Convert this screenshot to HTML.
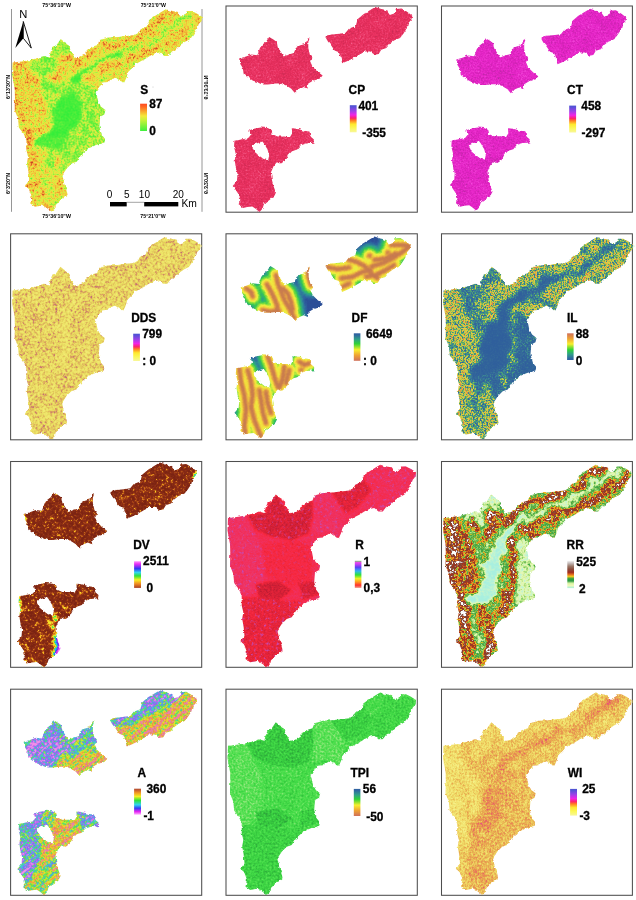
<!DOCTYPE html>
<html lang="en"><head><meta charset="utf-8"><title>Morphometric parameter maps</title>
<style>
html,body{margin:0;padding:0;background:#fff;}
body{width:636px;height:900px;overflow:hidden;font-family:'Liberation Sans', sans-serif;}
svg{display:block;}
text{font-family:'Liberation Sans', sans-serif;fill:#000;}
</style></head>
<body>
<svg width="636" height="900" viewBox="0 0 636 900">
<defs>
<linearGradient id="gS" x1="0" y1="0" x2="0" y2="1"><stop offset="0" stop-color="#ff4a22"/><stop offset="0.12" stop-color="#ff6a22"/><stop offset="0.45" stop-color="#f4e93a"/><stop offset="0.6" stop-color="#c8f23a"/><stop offset="1" stop-color="#3ef03e"/></linearGradient>
<linearGradient id="gCP" x1="0" y1="0" x2="0" y2="1"><stop offset="0" stop-color="#4a55d0"/><stop offset="0.06" stop-color="#5a50d8"/><stop offset="0.22" stop-color="#a040e8"/><stop offset="0.36" stop-color="#f222e6"/><stop offset="0.48" stop-color="#ff2468"/><stop offset="0.56" stop-color="#ff7a22"/><stop offset="0.7" stop-color="#ffe92e"/><stop offset="0.85" stop-color="#fbf85a"/><stop offset="1" stop-color="#f8f79a"/></linearGradient>
<linearGradient id="gDF" x1="0" y1="0" x2="0" y2="1"><stop offset="0" stop-color="#2f5fa2"/><stop offset="0.06" stop-color="#2f68a0"/><stop offset="0.22" stop-color="#30a088"/><stop offset="0.38" stop-color="#2fd238"/><stop offset="0.5" stop-color="#9be22e"/><stop offset="0.6" stop-color="#f8ef2e"/><stop offset="0.8" stop-color="#efa233"/><stop offset="1" stop-color="#d0705a"/></linearGradient>
<linearGradient id="gIL" x1="0" y1="0" x2="0" y2="1"><stop offset="0" stop-color="#d0705a"/><stop offset="0.2" stop-color="#efa233"/><stop offset="0.4" stop-color="#f8ef2e"/><stop offset="0.5" stop-color="#9be22e"/><stop offset="0.62" stop-color="#2fd238"/><stop offset="0.78" stop-color="#30a088"/><stop offset="0.94" stop-color="#2f68a0"/><stop offset="1" stop-color="#2f5fa2"/></linearGradient>
<linearGradient id="gDV" x1="0" y1="0" x2="0" y2="1"><stop offset="0" stop-color="#ff9aff"/><stop offset="0.1" stop-color="#f030f4"/><stop offset="0.2" stop-color="#8a30f4"/><stop offset="0.28" stop-color="#3038f2"/><stop offset="0.42" stop-color="#30d4f2"/><stop offset="0.55" stop-color="#30e23a"/><stop offset="0.7" stop-color="#f6f022"/><stop offset="0.85" stop-color="#f08a22"/><stop offset="1" stop-color="#a83e22"/></linearGradient>
<linearGradient id="gR" x1="0" y1="0" x2="0" y2="1"><stop offset="0" stop-color="#70d070"/><stop offset="0.07" stop-color="#f040f0"/><stop offset="0.15" stop-color="#b040f4"/><stop offset="0.24" stop-color="#5a40f4"/><stop offset="0.38" stop-color="#30b4f2"/><stop offset="0.52" stop-color="#30e236"/><stop offset="0.66" stop-color="#f2f022"/><stop offset="0.78" stop-color="#ff9a22"/><stop offset="0.9" stop-color="#ff3030"/><stop offset="1" stop-color="#f09a86"/></linearGradient>
<linearGradient id="gRR" x1="0" y1="0" x2="0" y2="1"><stop offset="0" stop-color="#f4f4f4"/><stop offset="0.08" stop-color="#c8c0c0"/><stop offset="0.2" stop-color="#9a7868"/><stop offset="0.3" stop-color="#8a5040"/><stop offset="0.42" stop-color="#a02a1e"/><stop offset="0.5" stop-color="#e06a1e"/><stop offset="0.57" stop-color="#f6c41e"/><stop offset="0.66" stop-color="#2fa040"/><stop offset="0.74" stop-color="#2f9a44"/><stop offset="0.82" stop-color="#d4f2a0"/><stop offset="0.9" stop-color="#f0fab8"/><stop offset="1" stop-color="#aaf0dc"/></linearGradient>
<linearGradient id="gA" x1="0" y1="0" x2="0" y2="1"><stop offset="0" stop-color="#b04a30"/><stop offset="0.06" stop-color="#c86030"/><stop offset="0.16" stop-color="#f49a22"/><stop offset="0.3" stop-color="#f2f022"/><stop offset="0.45" stop-color="#30e236"/><stop offset="0.62" stop-color="#30d4f2"/><stop offset="0.75" stop-color="#3040f2"/><stop offset="0.88" stop-color="#e422f2"/><stop offset="1" stop-color="#ffb4ff"/></linearGradient>
<path id="basin" d="M2,56.6 L10.7,55.5 L19.8,54.1 L26.5,52.1 L33.2,50 L38.2,51.6 L39.8,45.8 L41.5,41.6 L45.7,39.1 L49.8,33 L53.2,35.8 L57.3,38.3 L58.4,41.8 L60.6,46.3 L63.9,51.8 L70.5,50.2 L74.9,47.4 L76.3,43.6 L80.7,40.8 L86.5,39.1 L88.2,34.1 L94,32.5 L96.7,31.6 L105.8,31.1 L115,30 L123.3,29.1 L127.5,26.6 L129.2,23.3 L135,20.8 L137.5,14.1 L143.3,10 L150,5.8 L154.2,3.3 L160,5 L165.8,5.8 L169.2,10.8 L173.3,9.1 L175,5 L180,5 L185,7.5 L190,10.8 L189.7,15 L186.7,18.3 L185,23.3 L181.7,28.3 L178.3,33.3 L173.3,35.8 L168.3,39.1 L165,43.3 L160,45.8 L156.7,50 L152.5,50 L148.3,46.6 L143.3,47.5 L138.3,50 L133.3,53.3 L128.3,55.8 L124,58.4 L121.1,61.7 L116.7,66.1 L115.1,71.6 L112.9,76.6 L109,74.9 L104.1,71.6 L101.3,73.3 L96.9,76 L91.4,76.6 L88.7,80.4 L87.6,84.3 L84.3,85.4 L85.9,90.3 L87,95.8 L89.8,100.8 L94.2,104.1 L93.1,108.5 L89,110.8 L88.2,120.8 L90.7,129.1 L94,133.3 L93.2,136.6 L84.8,139.1 L77.3,142.5 L75.7,144.1 L70.7,148.3 L65.7,155.8 L60.7,157.5 L55.7,162.5 L51.5,169.1 L53.2,177.5 L55.7,184.1 L56.5,189.1 L52.3,192.5 L50.6,193.3 L44.9,198.9 L44.5,202.2 L40.7,205.5 L35.5,201.7 L31.7,199.4 L24.2,200.8 L19.5,197.5 L20.9,190.4 L18.1,182.9 L14.3,179.6 L18.5,174.4 L17.6,165 L16.2,157.4 L17.3,150.8 L15.7,144.1 L15.7,135 L13.2,128.3 L8.2,121.6 L7.3,112.5 L4,104.1 L4.3,90.8 L4,82.5 L1.5,69.1Z"/>
<path id="subs" fill-rule="evenodd" d="M14.7,53.5 L20.2,52 L26.8,49.5 L32.7,50.3 L35.2,43.2 L37.7,39.8 L41,37.3 L44.3,32.3 L48.5,34.8 L51.8,37.3 L52.7,42.3 L56,47.3 L58.5,51.5 L64.3,49.3 L68.5,48.2 L70.5,43.2 L74.3,40.7 L80.2,39 L81.8,34 L84.3,32.7 L82.7,37.3 L82.7,43.2 L84.3,49.8 L87.7,54 L84.3,55.7 L86.8,61.5 L91.8,66.5 L96.8,70.3 L94.3,73.2 L86.8,75.7 L82.7,78.2 L81.8,83.2 L77.7,81.5 L73.5,83.2 L69.3,87.3 L66,83.2 L61.8,80.7 L56.8,78.2 L50.2,78.2 L43.5,79 L38.5,79 L33.5,77 L28.5,75.3 L23.5,72.3 L19.3,69 L18.5,63.2 L16,59Z M99.3,32 L105.2,29.8 L113.5,29 L119.3,28.2 L122.7,24 L129.3,21.5 L131,14.8 L136.8,9.8 L143.5,5.7 L148.5,2.7 L154.3,4.8 L159.3,5.7 L162.7,10.7 L167.7,9 L168.5,4.8 L174.3,4.3 L179.3,7.3 L184.8,11.5 L183.8,15.3 L180.5,19 L179.3,24 L176,29 L172.7,33.2 L166.8,35.7 L162.7,39 L159.3,43.2 L154.3,44.8 L151.8,49 L147.7,49.8 L143.5,46.5 L138.5,46.5 L132.7,49.8 L126.8,53.2 L121.8,55.7 L116,58.2 L114.3,52.3 L112.7,47.3 L108.5,45.7 L105.2,40.7 L101.8,36.5Z M10.2,134.8 L16.8,133.2 L23.5,132 L26,129 L24.8,124.3 L29.3,122.7 L36,121.5 L42.7,122 L46.8,124 L47.7,128.2 L52.7,130.3 L59.3,130.3 L64.3,131.5 L66.8,127.3 L66.5,122.3 L71.8,122.8 L78.5,124.8 L83.8,125.3 L85.2,130.7 L88.2,133.2 L87.7,136.5 L81,137.3 L75.2,139 L71.8,143.2 L66.8,144.8 L62.7,149 L60.2,154 L56,157 L51.8,155.7 L48.5,159.8 L46,165.7 L46.8,172.3 L48.5,179 L51,185.7 L49.3,189 L44.3,193.2 L39.3,196.5 L37.7,201.5 L34.8,204.8 L31,201.5 L27.7,199.3 L22.7,199.8 L18.5,200.7 L14.3,197 L16,192.3 L14.3,187.3 L11,182.3 L8.5,179 L12.7,174 L13.2,167.3 L11.5,160.7 L10.5,154 L11.5,147.3 L9.8,140.7Z M27.7,139.3 L32.7,137 L37.7,135.3 L39.8,138.2 L42.7,143.2 L44.3,149 L43.2,154 L38.5,152.3 L34.3,149 L30.2,145.7 L28.5,142.3Z"/>
<filter id="rough" filterUnits="userSpaceOnUse" x="-5" y="-5" width="205" height="220"><feTurbulence type="fractalNoise" baseFrequency="0.3" numOctaves="2" seed="8" result="rn"/><feDisplacementMap in="SourceGraphic" in2="rn" scale="3" xChannelSelector="R" yChannelSelector="G"/></filter>
<mask id="mb" maskUnits="userSpaceOnUse" x="-5" y="-5" width="205" height="220"><use href="#basin" fill="#fff" filter="url(#rough)"/></mask>
<mask id="ms" maskUnits="userSpaceOnUse" x="-5" y="-5" width="205" height="220"><use href="#subs" fill="#fff" filter="url(#rough)"/></mask>
<clipPath id="cb"><use href="#basin"/></clipPath>
<clipPath id="cs"><path clip-rule="evenodd" d="M14.7,53.5 L20.2,52 L26.8,49.5 L32.7,50.3 L35.2,43.2 L37.7,39.8 L41,37.3 L44.3,32.3 L48.5,34.8 L51.8,37.3 L52.7,42.3 L56,47.3 L58.5,51.5 L64.3,49.3 L68.5,48.2 L70.5,43.2 L74.3,40.7 L80.2,39 L81.8,34 L84.3,32.7 L82.7,37.3 L82.7,43.2 L84.3,49.8 L87.7,54 L84.3,55.7 L86.8,61.5 L91.8,66.5 L96.8,70.3 L94.3,73.2 L86.8,75.7 L82.7,78.2 L81.8,83.2 L77.7,81.5 L73.5,83.2 L69.3,87.3 L66,83.2 L61.8,80.7 L56.8,78.2 L50.2,78.2 L43.5,79 L38.5,79 L33.5,77 L28.5,75.3 L23.5,72.3 L19.3,69 L18.5,63.2 L16,59Z M99.3,32 L105.2,29.8 L113.5,29 L119.3,28.2 L122.7,24 L129.3,21.5 L131,14.8 L136.8,9.8 L143.5,5.7 L148.5,2.7 L154.3,4.8 L159.3,5.7 L162.7,10.7 L167.7,9 L168.5,4.8 L174.3,4.3 L179.3,7.3 L184.8,11.5 L183.8,15.3 L180.5,19 L179.3,24 L176,29 L172.7,33.2 L166.8,35.7 L162.7,39 L159.3,43.2 L154.3,44.8 L151.8,49 L147.7,49.8 L143.5,46.5 L138.5,46.5 L132.7,49.8 L126.8,53.2 L121.8,55.7 L116,58.2 L114.3,52.3 L112.7,47.3 L108.5,45.7 L105.2,40.7 L101.8,36.5Z M10.2,134.8 L16.8,133.2 L23.5,132 L26,129 L24.8,124.3 L29.3,122.7 L36,121.5 L42.7,122 L46.8,124 L47.7,128.2 L52.7,130.3 L59.3,130.3 L64.3,131.5 L66.8,127.3 L66.5,122.3 L71.8,122.8 L78.5,124.8 L83.8,125.3 L85.2,130.7 L88.2,133.2 L87.7,136.5 L81,137.3 L75.2,139 L71.8,143.2 L66.8,144.8 L62.7,149 L60.2,154 L56,157 L51.8,155.7 L48.5,159.8 L46,165.7 L46.8,172.3 L48.5,179 L51,185.7 L49.3,189 L44.3,193.2 L39.3,196.5 L37.7,201.5 L34.8,204.8 L31,201.5 L27.7,199.3 L22.7,199.8 L18.5,200.7 L14.3,197 L16,192.3 L14.3,187.3 L11,182.3 L8.5,179 L12.7,174 L13.2,167.3 L11.5,160.7 L10.5,154 L11.5,147.3 L9.8,140.7Z M27.7,139.3 L32.7,137 L37.7,135.3 L39.8,138.2 L42.7,143.2 L44.3,149 L43.2,154 L38.5,152.3 L34.3,149 L30.2,145.7 L28.5,142.3Z"/></clipPath>
<filter id="fS" filterUnits="userSpaceOnUse" x="-4" y="-4" width="200" height="215" color-interpolation-filters="sRGB"><feTurbulence type="fractalNoise" baseFrequency="0.07" numOctaves="2" seed="3" result="dn"/><feDisplacementMap in="SourceGraphic" in2="dn" scale="12" xChannelSelector="R" yChannelSelector="G" result="ds"/><feGaussianBlur in="ds" stdDeviation="1.7" result="v0"/><feTurbulence type="fractalNoise" baseFrequency="0.5" numOctaves="2" seed="3" result="t0"/><feColorMatrix in="t0" type="matrix" values="1 0 0 0 0 1 0 0 0 0 1 0 0 0 0 0 0 0 0 1" result="n0"/><feComposite in="v0" in2="n0" operator="arithmetic" k1="1.3" k2="0.35" k3="0.2" k4="-0.1" result="v1"/><feTurbulence type="fractalNoise" baseFrequency="0.13" numOctaves="2" seed="11" result="t1"/><feColorMatrix in="t1" type="matrix" values="0 1 0 0 0 0 1 0 0 0 0 1 0 0 0 0 0 0 0 1" result="n1"/><feComposite in="v1" in2="n1" operator="arithmetic" k1="0.9" k2="0.55" k3="0.1" k4="-0.05" result="v2"/><feComponentTransfer in="v2" result="c"><feFuncR type="table" tableValues="0.208 0.238 0.269 0.300 0.330 0.361 0.401 0.473 0.544 0.616 0.684 0.748 0.812 0.867 0.886 0.906 0.925 0.933 0.940 0.948 0.948 0.946 0.944 0.942 0.937 0.923 0.909 0.895 0.881 0.858 0.833 0.809 0.784"/><feFuncG type="table" tableValues="0.933 0.935 0.936 0.937 0.939 0.940 0.941 0.941 0.941 0.941 0.940 0.938 0.935 0.930 0.913 0.896 0.878 0.849 0.820 0.790 0.756 0.721 0.686 0.651 0.611 0.558 0.506 0.453 0.401 0.370 0.343 0.317 0.290"/><feFuncB type="table" tableValues="0.227 0.229 0.230 0.232 0.233 0.234 0.236 0.240 0.244 0.249 0.251 0.251 0.251 0.251 0.251 0.251 0.251 0.244 0.236 0.229 0.223 0.218 0.213 0.207 0.201 0.192 0.184 0.175 0.166 0.158 0.150 0.142 0.133"/><feFuncA type="linear" slope="0" intercept="1"/></feComponentTransfer><feGaussianBlur in="c" stdDeviation="0.5"/></filter>
<filter id="fCP" filterUnits="userSpaceOnUse" x="-4" y="-4" width="200" height="215" color-interpolation-filters="sRGB"><feOffset in="SourceGraphic" dx="0" dy="0" result="v0"/><feTurbulence type="fractalNoise" baseFrequency="0.6" numOctaves="2" seed="5" result="t0"/><feColorMatrix in="t0" type="matrix" values="1 0 0 0 0 1 0 0 0 0 1 0 0 0 0 0 0 0 0 1" result="n0"/><feComposite in="v0" in2="n0" operator="arithmetic" k1="0" k2="1" k3="0.9" k4="-0.45" result="v1"/><feTurbulence type="fractalNoise" baseFrequency="0.08" numOctaves="2" seed="2" result="t1"/><feColorMatrix in="t1" type="matrix" values="0 1 0 0 0 0 1 0 0 0 0 1 0 0 0 0 0 0 0 1" result="n1"/><feComposite in="v1" in2="n1" operator="arithmetic" k1="0" k2="1" k3="0.35" k4="-0.175" result="v2"/><feComponentTransfer in="v2" result="c"><feFuncR type="table" tableValues="0.722 0.736 0.751 0.766 0.780 0.795 0.810 0.825 0.839 0.854 0.866 0.873 0.880 0.888 0.895 0.902 0.910 0.913 0.917 0.921 0.925 0.928 0.932 0.935 0.937 0.940 0.942 0.945 0.947 0.950 0.952 0.954 0.957"/><feFuncG type="table" tableValues="0.173 0.173 0.173 0.173 0.173 0.173 0.173 0.173 0.173 0.173 0.174 0.176 0.178 0.181 0.183 0.186 0.188 0.198 0.208 0.218 0.227 0.237 0.247 0.267 0.293 0.319 0.345 0.371 0.397 0.424 0.450 0.476 0.502"/><feFuncB type="table" tableValues="0.329 0.331 0.333 0.334 0.336 0.338 0.339 0.341 0.342 0.344 0.347 0.350 0.354 0.358 0.361 0.365 0.369 0.380 0.391 0.402 0.413 0.424 0.435 0.451 0.471 0.490 0.510 0.529 0.549 0.569 0.588 0.608 0.627"/><feFuncA type="linear" slope="0" intercept="1"/></feComponentTransfer><feGaussianBlur in="c" stdDeviation="0.4"/></filter>
<filter id="fCT" filterUnits="userSpaceOnUse" x="-4" y="-4" width="200" height="215" color-interpolation-filters="sRGB"><feOffset in="SourceGraphic" dx="0" dy="0" result="v0"/><feTurbulence type="fractalNoise" baseFrequency="0.6" numOctaves="2" seed="7" result="t0"/><feColorMatrix in="t0" type="matrix" values="1 0 0 0 0 1 0 0 0 0 1 0 0 0 0 0 0 0 0 1" result="n0"/><feComposite in="v0" in2="n0" operator="arithmetic" k1="0" k2="1" k3="0.9" k4="-0.45" result="v1"/><feTurbulence type="fractalNoise" baseFrequency="0.08" numOctaves="2" seed="4" result="t1"/><feColorMatrix in="t1" type="matrix" values="0 1 0 0 0 0 1 0 0 0 0 1 0 0 0 0 0 0 0 1" result="n1"/><feComposite in="v1" in2="n1" operator="arithmetic" k1="0" k2="1" k3="0.35" k4="-0.175" result="v2"/><feComponentTransfer in="v2" result="c"><feFuncR type="table" tableValues="0.627 0.648 0.668 0.689 0.709 0.730 0.750 0.770 0.791 0.811 0.828 0.839 0.850 0.861 0.872 0.883 0.894 0.899 0.904 0.909 0.914 0.919 0.924 0.927 0.931 0.934 0.937 0.941 0.944 0.947 0.950 0.954 0.957"/><feFuncG type="table" tableValues="0.204 0.197 0.191 0.184 0.178 0.171 0.165 0.158 0.152 0.145 0.141 0.141 0.141 0.141 0.141 0.141 0.141 0.150 0.158 0.167 0.175 0.184 0.193 0.209 0.231 0.253 0.275 0.298 0.320 0.342 0.364 0.386 0.408"/><feFuncB type="table" tableValues="0.596 0.608 0.621 0.633 0.645 0.657 0.670 0.682 0.694 0.706 0.718 0.727 0.737 0.747 0.757 0.767 0.776 0.783 0.789 0.795 0.801 0.807 0.813 0.820 0.826 0.833 0.839 0.846 0.852 0.859 0.865 0.872 0.878"/><feFuncA type="linear" slope="0" intercept="1"/></feComponentTransfer><feGaussianBlur in="c" stdDeviation="0.4"/></filter>
<filter id="fDDS" filterUnits="userSpaceOnUse" x="-4" y="-4" width="200" height="215" color-interpolation-filters="sRGB"><feGaussianBlur in="SourceGraphic" stdDeviation="3" result="v0"/><feTurbulence type="fractalNoise" baseFrequency="0.4" numOctaves="2" seed="9" result="t0"/><feColorMatrix in="t0" type="matrix" values="1 0 0 0 0 1 0 0 0 0 1 0 0 0 0 0 0 0 0 1" result="n0"/><feComposite in="v0" in2="n0" operator="arithmetic" k1="0" k2="1" k3="1.15" k4="-0.575" result="v1"/><feTurbulence type="fractalNoise" baseFrequency="0.1" numOctaves="2" seed="6" result="t1"/><feColorMatrix in="t1" type="matrix" values="0 1 0 0 0 0 1 0 0 0 0 1 0 0 0 0 0 0 0 1" result="n1"/><feComposite in="v1" in2="n1" operator="arithmetic" k1="0" k2="1" k3="0.45" k4="-0.225" result="v2"/><feComponentTransfer in="v2" result="c"><feFuncR type="table" tableValues="0.949 0.947 0.946 0.944 0.942 0.941 0.939 0.938 0.936 0.934 0.931 0.926 0.922 0.917 0.912 0.906 0.901 0.895 0.889 0.883 0.875 0.866 0.858 0.846 0.832 0.818 0.803 0.770 0.731 0.692 0.623 0.531 0.439"/><feFuncG type="table" tableValues="0.925 0.922 0.919 0.916 0.912 0.909 0.906 0.903 0.899 0.896 0.890 0.880 0.871 0.861 0.851 0.833 0.811 0.788 0.766 0.739 0.706 0.673 0.641 0.605 0.569 0.532 0.495 0.456 0.417 0.378 0.350 0.332 0.314"/><feFuncB type="table" tableValues="0.455 0.450 0.445 0.440 0.435 0.430 0.425 0.421 0.416 0.411 0.405 0.399 0.392 0.386 0.379 0.374 0.370 0.367 0.363 0.363 0.367 0.371 0.375 0.386 0.403 0.419 0.435 0.469 0.508 0.547 0.578 0.603 0.627"/><feFuncA type="linear" slope="0" intercept="1"/></feComponentTransfer><feGaussianBlur in="c" stdDeviation="0.5"/></filter>
<filter id="fDF" filterUnits="userSpaceOnUse" x="-4" y="-4" width="200" height="215" color-interpolation-filters="sRGB"><feGaussianBlur in="SourceGraphic" stdDeviation="0.9" result="v0"/><feTurbulence type="fractalNoise" baseFrequency="0.5" numOctaves="2" seed="4" result="t0"/><feColorMatrix in="t0" type="matrix" values="1 0 0 0 0 1 0 0 0 0 1 0 0 0 0 0 0 0 0 1" result="n0"/><feComposite in="v0" in2="n0" operator="arithmetic" k1="0" k2="1" k3="0.1" k4="-0.05" result="v1"/><feComponentTransfer in="v1" result="c"><feFuncR type="table" tableValues="0.769 0.777 0.785 0.793 0.804 0.826 0.849 0.871 0.894 0.907 0.921 0.934 0.947 0.946 0.943 0.902 0.762 0.623 0.487 0.396 0.305 0.215 0.199 0.194 0.189 0.184 0.184 0.184 0.184 0.184 0.180 0.176 0.173"/><feFuncG type="table" tableValues="0.463 0.473 0.483 0.493 0.507 0.539 0.571 0.603 0.635 0.690 0.745 0.799 0.854 0.888 0.919 0.935 0.913 0.891 0.868 0.836 0.804 0.772 0.731 0.688 0.645 0.602 0.553 0.504 0.455 0.409 0.375 0.340 0.306"/><feFuncB type="table" tableValues="0.322 0.315 0.309 0.303 0.297 0.289 0.282 0.274 0.267 0.259 0.252 0.244 0.237 0.240 0.247 0.250 0.245 0.240 0.238 0.272 0.307 0.341 0.395 0.453 0.510 0.565 0.582 0.598 0.614 0.625 0.616 0.606 0.596"/><feFuncA type="linear" slope="0" intercept="1"/></feComponentTransfer><feGaussianBlur in="c" stdDeviation="0.4"/></filter>
<filter id="fIL" filterUnits="userSpaceOnUse" x="-4" y="-4" width="200" height="215" color-interpolation-filters="sRGB"><feTurbulence type="fractalNoise" baseFrequency="0.06" numOctaves="2" seed="5" result="dn"/><feDisplacementMap in="SourceGraphic" in2="dn" scale="16" xChannelSelector="R" yChannelSelector="G" result="ds"/><feGaussianBlur in="ds" stdDeviation="2.0" result="v0"/><feTurbulence type="fractalNoise" baseFrequency="0.6" numOctaves="2" seed="13" result="t0"/><feColorMatrix in="t0" type="matrix" values="1 0 0 0 0 1 0 0 0 0 1 0 0 0 0 0 0 0 0 1" result="n0"/><feComposite in="v0" in2="n0" operator="arithmetic" k1="2.4" k2="-0.2" k3="0.35" k4="-0.175" result="v1"/><feTurbulence type="fractalNoise" baseFrequency="0.1" numOctaves="2" seed="8" result="t1"/><feColorMatrix in="t1" type="matrix" values="0 1 0 0 0 0 1 0 0 0 0 1 0 0 0 0 0 0 0 1" result="n1"/><feComposite in="v1" in2="n1" operator="arithmetic" k1="0.9" k2="0.55" k3="0.15" k4="-0.075" result="v2"/><feComponentTransfer in="v2" result="c"><feFuncR type="table" tableValues="0.188 0.191 0.194 0.197 0.200 0.204 0.207 0.212 0.218 0.224 0.230 0.237 0.256 0.274 0.293 0.331 0.422 0.513 0.601 0.660 0.719 0.779 0.827 0.843 0.858 0.873 0.888 0.902 0.899 0.897 0.895 0.876 0.847"/><feFuncG type="table" tableValues="0.376 0.383 0.389 0.395 0.401 0.407 0.413 0.432 0.461 0.489 0.517 0.545 0.573 0.602 0.630 0.659 0.689 0.718 0.746 0.761 0.775 0.789 0.799 0.796 0.793 0.790 0.787 0.780 0.739 0.699 0.659 0.596 0.518"/><feFuncB type="table" tableValues="0.612 0.611 0.609 0.608 0.607 0.606 0.604 0.600 0.593 0.586 0.579 0.568 0.534 0.499 0.464 0.428 0.389 0.350 0.313 0.300 0.288 0.276 0.266 0.263 0.260 0.257 0.254 0.252 0.256 0.260 0.265 0.278 0.298"/><feFuncA type="linear" slope="0" intercept="1"/></feComponentTransfer><feGaussianBlur in="c" stdDeviation="0.45"/></filter>
<filter id="fDV" filterUnits="userSpaceOnUse" x="-4" y="-4" width="200" height="215" color-interpolation-filters="sRGB"><feGaussianBlur in="SourceGraphic" stdDeviation="0.8" result="v0"/><feTurbulence type="fractalNoise" baseFrequency="0.42" numOctaves="2" seed="21" result="t0"/><feColorMatrix in="t0" type="matrix" values="1 0 0 0 0 1 0 0 0 0 1 0 0 0 0 0 0 0 0 1" result="n0"/><feComposite in="v0" in2="n0" operator="arithmetic" k1="-1.45" k2="1.725" k3="1.45" k4="-0.725" result="v1"/><feTurbulence type="fractalNoise" baseFrequency="0.14" numOctaves="2" seed="5" result="t1"/><feColorMatrix in="t1" type="matrix" values="0 1 0 0 0 0 1 0 0 0 0 1 0 0 0 0 0 0 0 1" result="n1"/><feComposite in="v1" in2="n1" operator="arithmetic" k1="-0.7" k2="1.35" k3="0.7" k4="-0.35" result="v2"/><feComponentTransfer in="v2" result="c"><feFuncR type="table" tableValues="0.486 0.493 0.500 0.507 0.514 0.521 0.528 0.535 0.542 0.550 0.579 0.607 0.636 0.671 0.729 0.788 0.847 0.890 0.933 0.957 0.957 0.957 0.725 0.462 0.269 0.227 0.190 0.211 0.232 0.517 0.852 0.937 1.000"/><feFuncG type="table" tableValues="0.141 0.146 0.150 0.154 0.159 0.163 0.167 0.172 0.176 0.181 0.204 0.226 0.249 0.281 0.355 0.428 0.502 0.588 0.674 0.759 0.845 0.931 0.922 0.901 0.878 0.854 0.811 0.559 0.307 0.232 0.192 0.519 0.878"/><feFuncB type="table" tableValues="0.071 0.072 0.074 0.076 0.078 0.079 0.081 0.083 0.085 0.086 0.086 0.086 0.086 0.088 0.095 0.102 0.110 0.113 0.116 0.127 0.149 0.170 0.194 0.219 0.329 0.624 0.896 0.917 0.938 0.941 0.941 0.969 1.000"/><feFuncA type="linear" slope="0" intercept="1"/></feComponentTransfer><feGaussianBlur in="c" stdDeviation="0.4"/></filter>
<filter id="fR" filterUnits="userSpaceOnUse" x="-4" y="-4" width="200" height="215" color-interpolation-filters="sRGB"><feGaussianBlur in="SourceGraphic" stdDeviation="0.8" result="v0"/><feTurbulence type="fractalNoise" baseFrequency="0.5" numOctaves="2" seed="31" result="t0"/><feColorMatrix in="t0" type="matrix" values="1 0 0 0 0 1 0 0 0 0 1 0 0 0 0 0 0 0 0 1" result="n0"/><feComposite in="v0" in2="n0" operator="arithmetic" k1="0" k2="1" k3="0.5" k4="-0.25" result="v1"/><feTurbulence type="fractalNoise" baseFrequency="0.1" numOctaves="2" seed="33" result="t1"/><feColorMatrix in="t1" type="matrix" values="0 1 0 0 0 0 1 0 0 0 0 1 0 0 0 0 0 0 0 1" result="n1"/><feComposite in="v1" in2="n1" operator="arithmetic" k1="0" k2="1" k3="0.2" k4="-0.1" result="v2"/><feComponentTransfer in="v2" result="c"><feFuncR type="table" tableValues="0.910 0.915 0.920 0.925 0.929 0.934 0.935 0.937 0.939 0.940 0.942 0.946 0.949 0.952 0.956 0.959 0.962 0.965 0.969 0.972 0.962 0.949 0.936 0.923 0.910 0.893 0.877 0.861 0.844 0.826 0.802 0.777 0.753"/><feFuncG type="table" tableValues="0.251 0.244 0.238 0.231 0.225 0.218 0.212 0.205 0.199 0.192 0.187 0.184 0.180 0.177 0.174 0.171 0.167 0.164 0.161 0.158 0.154 0.151 0.148 0.144 0.141 0.138 0.135 0.131 0.128 0.125 0.120 0.115 0.110"/><feFuncB type="table" tableValues="0.439 0.433 0.426 0.420 0.413 0.407 0.400 0.393 0.387 0.380 0.371 0.356 0.341 0.326 0.312 0.299 0.288 0.276 0.265 0.253 0.247 0.242 0.237 0.232 0.227 0.224 0.221 0.218 0.214 0.211 0.209 0.206 0.204"/><feFuncA type="linear" slope="0" intercept="1"/></feComponentTransfer><feGaussianBlur in="c" stdDeviation="0.4"/></filter>
<filter id="sR" filterUnits="userSpaceOnUse" x="-4" y="-4" width="200" height="215" color-interpolation-filters="sRGB"><feTurbulence type="fractalNoise" baseFrequency="0.32" numOctaves="3" seed="77"/><feColorMatrix type="matrix" values="0 0 0 0 0.769  0 0 0 0 0.298  0 0 0 0 0.722  3.2 0 0 0 -1.824"/><feComposite in2="SourceGraphic" operator="in"/><feGaussianBlur stdDeviation="0.5"/></filter>
<filter id="fRR" filterUnits="userSpaceOnUse" x="-4" y="-4" width="200" height="215" color-interpolation-filters="sRGB"><feTurbulence type="fractalNoise" baseFrequency="0.07" numOctaves="2" seed="7" result="dn"/><feDisplacementMap in="SourceGraphic" in2="dn" scale="16" xChannelSelector="R" yChannelSelector="G" result="ds"/><feGaussianBlur in="ds" stdDeviation="1.2" result="v0"/><feTurbulence type="fractalNoise" baseFrequency="0.4" numOctaves="2" seed="17" result="t0"/><feColorMatrix in="t0" type="matrix" values="1 0 0 0 0 1 0 0 0 0 1 0 0 0 0 0 0 0 0 1" result="n0"/><feComposite in="v0" in2="n0" operator="arithmetic" k1="1.05" k2="0.475" k3="0.2" k4="-0.1" result="v1"/><feTurbulence type="fractalNoise" baseFrequency="0.12" numOctaves="2" seed="19" result="t1"/><feColorMatrix in="t1" type="matrix" values="0 1 0 0 0 0 1 0 0 0 0 1 0 0 0 0 0 0 0 1" result="n1"/><feComposite in="v1" in2="n1" operator="arithmetic" k1="0.7" k2="0.65" k3="0.15" k4="-0.075" result="v2"/><feComponentTransfer in="v2" result="c"><feFuncR type="table" tableValues="0.659 0.693 0.727 0.762 0.804 0.848 0.892 0.851 0.753 0.655 0.549 0.431 0.314 0.248 0.392 0.535 0.741 0.940 0.912 0.884 0.810 0.724 0.650 0.613 0.576 0.540 0.521 0.531 0.540 0.661 0.804 0.904 1.000"/><feFuncG type="table" tableValues="0.941 0.946 0.951 0.956 0.961 0.966 0.971 0.949 0.910 0.871 0.820 0.751 0.682 0.636 0.678 0.720 0.745 0.763 0.634 0.504 0.390 0.280 0.200 0.214 0.228 0.242 0.267 0.307 0.347 0.535 0.751 0.879 1.000"/><feFuncB type="table" tableValues="0.878 0.859 0.839 0.820 0.784 0.745 0.706 0.643 0.565 0.486 0.418 0.364 0.310 0.264 0.250 0.236 0.188 0.141 0.138 0.134 0.128 0.122 0.121 0.135 0.150 0.164 0.191 0.237 0.283 0.500 0.749 0.879 1.000"/><feFuncA type="linear" slope="0" intercept="1"/></feComponentTransfer><feGaussianBlur in="c" stdDeviation="0.35"/></filter>
<filter id="fA" filterUnits="userSpaceOnUse" x="-150" y="-150" width="500" height="500" color-interpolation-filters="sRGB"><feGaussianBlur in="SourceGraphic" stdDeviation="1.6" result="v0"/><feTurbulence type="fractalNoise" baseFrequency="0.5" numOctaves="2" seed="41" result="t0"/><feColorMatrix in="t0" type="matrix" values="1 0 0 0 0 1 0 0 0 0 1 0 0 0 0 0 0 0 0 1" result="n0"/><feComposite in="v0" in2="n0" operator="arithmetic" k1="0" k2="1" k3="1.2" k4="-0.6" result="v1"/><feTurbulence type="fractalNoise" baseFrequency="0.05 0.3" numOctaves="2" seed="43" result="t1"/><feColorMatrix in="t1" type="matrix" values="0 1 0 0 0 0 1 0 0 0 0 1 0 0 0 0 0 0 0 1" result="n1"/><feComposite in="v1" in2="n1" operator="arithmetic" k1="0" k2="1" k3="1.1" k4="-0.55" result="v2"/><feComponentTransfer in="v2" result="c"><feFuncR type="table" tableValues="0.941 0.892 0.843 0.794 0.725 0.652 0.578 0.509 0.441 0.375 0.342 0.310 0.281 0.270 0.259 0.265 0.314 0.363 0.461 0.579 0.696 0.787 0.852 0.918 0.944 0.948 0.953 0.954 0.932 0.911 0.896 0.903 0.910"/><feFuncG type="table" tableValues="0.565 0.511 0.457 0.403 0.396 0.401 0.406 0.437 0.486 0.537 0.618 0.700 0.774 0.807 0.839 0.864 0.871 0.877 0.889 0.904 0.918 0.917 0.901 0.884 0.839 0.776 0.714 0.654 0.610 0.566 0.530 0.516 0.502"/><feFuncB type="table" tableValues="0.910 0.920 0.929 0.939 0.941 0.941 0.941 0.941 0.941 0.940 0.919 0.897 0.861 0.752 0.643 0.530 0.408 0.285 0.237 0.217 0.198 0.188 0.188 0.188 0.188 0.188 0.188 0.193 0.237 0.281 0.354 0.522 0.690"/><feFuncA type="linear" slope="0" intercept="1"/></feComponentTransfer><feGaussianBlur in="c" stdDeviation="0.5"/></filter>
<filter id="fTPI" filterUnits="userSpaceOnUse" x="-4" y="-4" width="200" height="215" color-interpolation-filters="sRGB"><feGaussianBlur in="SourceGraphic" stdDeviation="0.6" result="v0"/><feTurbulence type="fractalNoise" baseFrequency="0.5" numOctaves="2" seed="51" result="t0"/><feColorMatrix in="t0" type="matrix" values="1 0 0 0 0 1 0 0 0 0 1 0 0 0 0 0 0 0 0 1" result="n0"/><feComposite in="v0" in2="n0" operator="arithmetic" k1="0" k2="1" k3="0.7" k4="-0.35" result="v1"/><feTurbulence type="fractalNoise" baseFrequency="0.1" numOctaves="2" seed="53" result="t1"/><feColorMatrix in="t1" type="matrix" values="0 1 0 0 0 0 1 0 0 0 0 1 0 0 0 0 0 0 0 1" result="n1"/><feComposite in="v1" in2="n1" operator="arithmetic" k1="0" k2="1" k3="0.15" k4="-0.075" result="v2"/><feComponentTransfer in="v2" result="c"><feFuncR type="table" tableValues="0.165 0.168 0.172 0.176 0.179 0.183 0.187 0.192 0.198 0.204 0.210 0.216 0.225 0.235 0.246 0.256 0.267 0.287 0.308 0.328 0.351 0.389 0.427 0.466 0.504 0.542 0.578 0.613 0.647 0.681 0.716 0.750 0.784"/><feFuncG type="table" tableValues="0.541 0.564 0.588 0.611 0.634 0.658 0.681 0.703 0.725 0.746 0.767 0.789 0.807 0.821 0.835 0.849 0.863 0.867 0.871 0.875 0.879 0.885 0.890 0.896 0.901 0.907 0.912 0.917 0.922 0.926 0.931 0.936 0.941"/><feFuncB type="table" tableValues="0.227 0.229 0.230 0.231 0.232 0.234 0.235 0.237 0.240 0.243 0.246 0.249 0.254 0.261 0.268 0.275 0.282 0.295 0.307 0.319 0.334 0.361 0.388 0.415 0.443 0.470 0.497 0.524 0.551 0.578 0.605 0.632 0.659"/><feFuncA type="linear" slope="0" intercept="1"/></feComponentTransfer><feGaussianBlur in="c" stdDeviation="0.4"/></filter>
<filter id="fWI" filterUnits="userSpaceOnUse" x="-4" y="-4" width="200" height="215" color-interpolation-filters="sRGB"><feTurbulence type="fractalNoise" baseFrequency="0.07" numOctaves="2" seed="9" result="dn"/><feDisplacementMap in="SourceGraphic" in2="dn" scale="12" xChannelSelector="R" yChannelSelector="G" result="ds"/><feGaussianBlur in="ds" stdDeviation="2.4" result="v0"/><feTurbulence type="fractalNoise" baseFrequency="0.5" numOctaves="2" seed="61" result="t0"/><feColorMatrix in="t0" type="matrix" values="1 0 0 0 0 1 0 0 0 0 1 0 0 0 0 0 0 0 0 1" result="n0"/><feComposite in="v0" in2="n0" operator="arithmetic" k1="0" k2="1" k3="0.85" k4="-0.425" result="v1"/><feTurbulence type="fractalNoise" baseFrequency="0.1" numOctaves="2" seed="63" result="t1"/><feColorMatrix in="t1" type="matrix" values="0 1 0 0 0 0 1 0 0 0 0 1 0 0 0 0 0 0 0 1" result="n1"/><feComposite in="v1" in2="n1" operator="arithmetic" k1="0" k2="1" k3="0.35" k4="-0.175" result="v2"/><feComponentTransfer in="v2" result="c"><feFuncR type="table" tableValues="0.965 0.962 0.960 0.958 0.956 0.954 0.951 0.949 0.946 0.943 0.940 0.937 0.934 0.930 0.926 0.922 0.918 0.916 0.914 0.912 0.910 0.910 0.910 0.910 0.910 0.912 0.915 0.917 0.919 0.922 0.925 0.903 0.878"/><feFuncG type="table" tableValues="0.941 0.934 0.928 0.921 0.914 0.908 0.901 0.894 0.879 0.864 0.849 0.833 0.818 0.795 0.771 0.746 0.722 0.697 0.673 0.648 0.623 0.594 0.566 0.537 0.506 0.469 0.432 0.396 0.356 0.313 0.270 0.229 0.188"/><feFuncB type="table" tableValues="0.533 0.520 0.507 0.493 0.480 0.466 0.453 0.440 0.427 0.415 0.403 0.391 0.378 0.366 0.354 0.342 0.329 0.325 0.321 0.317 0.315 0.321 0.327 0.333 0.343 0.362 0.380 0.398 0.437 0.499 0.560 0.670 0.784"/><feFuncA type="linear" slope="0" intercept="1"/></feComponentTransfer><feGaussianBlur in="c" stdDeviation="0.45"/></filter>
</defs>
<rect width="636" height="900" fill="#fff"/>
<line x1="11.5" y1="9" x2="11.5" y2="211.8" stroke="#8a8a8a" stroke-width="0.9"/>
<line x1="202" y1="9" x2="202" y2="211.8" stroke="#8a8a8a" stroke-width="0.9"/>
<g transform="translate(10.6,6) scale(1.007,1)"><g mask="url(#mb)"><g filter="url(#fS)"><rect x="-150" y="-150" width="500" height="500" fill="#757575"/><path d="M0,52 L20,54 L26,66 L34,82 L40,98 L38,110 L38,124 L24,134 L20,140 L30,146 L30,160 L34,185 L36,207 L10,207 L0,150Z" fill="#8a8a8a"/><path d="M40,98 L60,78 L80,80 L95,85 L112,115 L110,140 L80,150 L60,165 L34,160 L30,146 L38,124 L38,110Z" fill="#444444"/><path d="M76,84 L86,82 L96,100 L95,120 L97,140 L80,147 L72,142 L76,126 L78,110 L76,95Z" fill="#4c4c4c"/><path d="M20.3,54.2 L32.8,50.9 L39.5,47.5 L41.2,40.9 L49.5,31 L57.8,39.2 L62,50.9 L54.5,50.9 L49.5,52.5 L46.2,59.2 L45.3,69.2 L39.5,65.9 L32.8,69.2 L27.8,65.9 L22.8,62.5Z" fill="#4c4c4c"/><path d="M22,58 L28,68 L33,78 L37,88 L40,96" fill="none" stroke="#4c4c4c" stroke-width="7" stroke-linecap="round" stroke-linejoin="round"/><path d="M5,58 L7,75 L8,100 L13,120 L19,135 L23,150 L25,162" fill="none" stroke="#868686" stroke-width="10" stroke-linecap="round" stroke-linejoin="round"/><path d="M14,60 L20,70 L26,82" fill="none" stroke="#868686" stroke-width="10" stroke-linecap="round" stroke-linejoin="round"/><path d="M50,53 L48.5,66.2 L47,76" fill="none" stroke="#868686" stroke-width="10" stroke-linecap="round" stroke-linejoin="round"/><path d="M50,53 L59.5,53 L66.2,57.8 L72.8,52.8 L82.8,42.8 L92.8,39.5 L105.5,37.8 L108.5,34.5 L121.8,31.2 L135.2,27.8 L143.5,17.8 L155.2,9.5 L163.5,7" fill="none" stroke="#868686" stroke-width="10" stroke-linecap="round" stroke-linejoin="round"/><path d="M91.8,62 L100,62 L113.5,54.5 L126.8,47.8 L143.5,42.8 L155.2,37.8 L166.8,27.8 L176.8,21.2 L185.2,13.5" fill="none" stroke="#868686" stroke-width="10" stroke-linecap="round" stroke-linejoin="round"/><path d="M19.5,152.8 L17.8,179.5 L22.8,196.2" fill="none" stroke="#868686" stroke-width="10" stroke-linecap="round" stroke-linejoin="round"/><path d="M25,200 L40,203" fill="none" stroke="#868686" stroke-width="10" stroke-linecap="round" stroke-linejoin="round"/><path d="M5,58 L7,75 L8,100 L13,120 L19,135 L23,150 L25,162" fill="none" stroke="#a6a6a6" stroke-width="4.5" stroke-linecap="round" stroke-linejoin="round"/><path d="M14,60 L20,70 L26,82" fill="none" stroke="#a6a6a6" stroke-width="4.5" stroke-linecap="round" stroke-linejoin="round"/><path d="M50,53 L48.5,66.2 L47,76" fill="none" stroke="#a6a6a6" stroke-width="4.5" stroke-linecap="round" stroke-linejoin="round"/><path d="M50,53 L59.5,53 L66.2,57.8 L72.8,52.8 L82.8,42.8 L92.8,39.5 L105.5,37.8 L108.5,34.5 L121.8,31.2 L135.2,27.8 L143.5,17.8 L155.2,9.5 L163.5,7" fill="none" stroke="#a6a6a6" stroke-width="4.5" stroke-linecap="round" stroke-linejoin="round"/><path d="M91.8,62 L100,62 L113.5,54.5 L126.8,47.8 L143.5,42.8 L155.2,37.8 L166.8,27.8 L176.8,21.2 L185.2,13.5" fill="none" stroke="#a6a6a6" stroke-width="4.5" stroke-linecap="round" stroke-linejoin="round"/><path d="M19.5,152.8 L17.8,179.5 L22.8,196.2" fill="none" stroke="#a6a6a6" stroke-width="4.5" stroke-linecap="round" stroke-linejoin="round"/><path d="M25,200 L40,203" fill="none" stroke="#a6a6a6" stroke-width="4.5" stroke-linecap="round" stroke-linejoin="round"/><path d="M58,90 L60,78 L64,70" fill="none" stroke="#242424" stroke-width="3" stroke-linecap="round" stroke-linejoin="round"/><path d="M62,68 L72,66 L68,74 L64,84 L62,92 L58,101 L56.2,116.2 L55,129.5 L52,138 L44,142 L32,141 L24,137 L30,131 L40,126 L44,116 L42,106 L46,98 L52,92 L56,82Z" fill="#0f0f0f"/><path d="M24,56 L44,55" fill="none" stroke="#2e2e2e" stroke-width="3.5" stroke-linecap="round" stroke-linejoin="round"/><path d="M36,138 L52,134" fill="none" stroke="#1a1a1a" stroke-width="9" stroke-linecap="round" stroke-linejoin="round"/><path d="M69,76 L70,86.2 L71.2,99.5 L72.8,112.8 L69.5,126.2 L66.2,139.5 L61.2,152.8" fill="none" stroke="#5c5c5c" stroke-width="4" stroke-linecap="round" stroke-linejoin="round"/><path d="M32.8,143 L32.8,162.8 L34.5,176.2 L37.8,192.8" fill="none" stroke="#575757" stroke-width="3" stroke-linecap="round" stroke-linejoin="round"/><path d="M76,84 L86,82 L96,100 L95,120 L97,140 L80,147 L72,142 L76,126 L78,110 L76,95Z" fill="#474747"/><path d="M42.8,149.5 L47.8,166.2 L49.5,179.5 L51.2,192.8" fill="none" stroke="#858585" stroke-width="5" stroke-linecap="round" stroke-linejoin="round"/><ellipse cx="58" cy="106" rx="13" ry="20" fill="#0f0f0f"/><path d="M40,80 L56,84 L70,80" fill="none" stroke="#3d3d3d" stroke-width="10" stroke-linecap="round" stroke-linejoin="round"/><path d="M66,68 L76,63 L85,58 L95,54" fill="none" stroke="#1a1a1a" stroke-width="4" stroke-linecap="round" stroke-linejoin="round"/><path d="M95,54 L103.5,49.5 L115.2,42.8 L131.8,39.5 L145.2,31.2 L153.5,24.5 L163.5,17.8 L170.2,12.8 L178,9.5" fill="none" stroke="#242424" stroke-width="2.6" stroke-linecap="round" stroke-linejoin="round"/></g></g></g>
<text x="42.3" y="6.9" font-size="5.6" font-weight="bold" text-anchor="start" textLength="28.6" lengthAdjust="spacingAndGlyphs">75°36'10"W</text>
<text x="140.7" y="6.9" font-size="5.6" font-weight="bold" text-anchor="start" textLength="25.3" lengthAdjust="spacingAndGlyphs">75°21'0"W</text>
<text x="42.3" y="218.2" font-size="5.6" font-weight="bold" text-anchor="start" textLength="28.6" lengthAdjust="spacingAndGlyphs">75°36'10"W</text>
<text x="140.3" y="218.2" font-size="5.6" font-weight="bold" text-anchor="start" textLength="25.3" lengthAdjust="spacingAndGlyphs">75°21'0"W</text>
<text x="0" y="0" font-size="5.6" font-weight="bold" text-anchor="start" transform="translate(9.6,98.9) rotate(-90)" textLength="24" lengthAdjust="spacingAndGlyphs">6°13'30"N</text>
<text x="0" y="0" font-size="5.6" font-weight="bold" text-anchor="start" transform="translate(9.5,194.1) rotate(-90)" textLength="21.2" lengthAdjust="spacingAndGlyphs">6°3'20"N</text>
<text x="0" y="0" font-size="5.6" font-weight="bold" text-anchor="start" transform="matrix(0,-1,-1,0,203.9,99.4)" textLength="24" lengthAdjust="spacingAndGlyphs">6°13'30"N</text>
<text x="0" y="0" font-size="5.6" font-weight="bold" text-anchor="start" transform="matrix(0,-1,-1,0,203.9,194.1)" textLength="21.2" lengthAdjust="spacingAndGlyphs">6°3'20"N</text>
<text x="19.3" y="18" font-size="11.2" font-weight="normal" text-anchor="start" >N</text>
<path d="M23.3,21.5 L15.3,47.9 L23.3,38.2 Z" fill="#000"/>
<path d="M23.3,21.5 L31.3,48.1 L23.3,38.2 Z" fill="#fff" stroke="#000" stroke-width="0.9" stroke-linejoin="miter"/>
<rect x="110" y="202" width="16.7" height="4.4" fill="#000"/>
<rect x="144.2" y="202" width="34.1" height="4.4" fill="#000"/>
<line x1="126.7" y1="202.3" x2="144.2" y2="202.3" stroke="#666" stroke-width="0.6"/>
<text x="109.5" y="197.5" font-size="10" font-weight="normal" text-anchor="middle" >0</text>
<text x="126.7" y="197.5" font-size="10" font-weight="normal" text-anchor="middle" >5</text>
<text x="144.4" y="197.5" font-size="10" font-weight="normal" text-anchor="middle" >10</text>
<text x="178.3" y="197.5" font-size="10" font-weight="normal" text-anchor="middle" >20</text>
<text x="181.5" y="206.6" font-size="10.3" font-weight="normal" text-anchor="start" >Km</text>
<circle cx="153" cy="87" r="0.45" fill="#999"/>
<text x="140.2" y="93.9" font-size="11.9" font-weight="bold" text-anchor="start" stroke="#000" stroke-width="0.3" >S</text>
<rect x="140.1" y="103.7" width="6.9" height="27.3" fill="url(#gS)"/>
<text x="149.2" y="107.7" font-size="11.9" font-weight="bold" text-anchor="start" stroke="#000" stroke-width="0.3" >87</text>
<text x="149.2" y="135.4" font-size="11.9" font-weight="bold" text-anchor="start" stroke="#000" stroke-width="0.3" >0</text>
<rect x="226" y="6" width="191.3" height="206.2" fill="none" stroke="#4e4e4e" stroke-width="1.05"/>
<g transform="translate(224.03,4.2) scale(1.019,1.015)"><g mask="url(#ms)"><g filter="url(#fCP)"><rect x="-150" y="-150" width="500" height="500" fill="#808080"/></g></g></g>
<text x="348.6" y="93.9" font-size="11.9" font-weight="bold" text-anchor="start" stroke="#000" stroke-width="0.3" >CP</text>
<rect x="349.8" y="105.2" width="6.8" height="27.1" fill="url(#gCP)"/>
<text x="358.4" y="110" font-size="11.9" font-weight="bold" text-anchor="start" stroke="#000" stroke-width="0.3" >401</text>
<text x="362.2" y="136.7" font-size="11.9" font-weight="bold" text-anchor="start" stroke="#000" stroke-width="0.3" >-355</text>
<rect x="441.5" y="6" width="190.9" height="206.2" fill="none" stroke="#4e4e4e" stroke-width="1.05"/>
<g transform="translate(441.5,6)"><g mask="url(#ms)"><g filter="url(#fCT)"><rect x="-150" y="-150" width="500" height="500" fill="#808080"/></g></g></g>
<text x="567.1" y="93.9" font-size="11.9" font-weight="bold" text-anchor="start" stroke="#000" stroke-width="0.3" >CT</text>
<rect x="569.2" y="105.6" width="6.9" height="26.9" fill="url(#gCP)"/>
<text x="581.3" y="110" font-size="11.9" font-weight="bold" text-anchor="start" stroke="#000" stroke-width="0.3" >458</text>
<text x="581.6" y="137.2" font-size="11.9" font-weight="bold" text-anchor="start" stroke="#000" stroke-width="0.3" >-297</text>
<rect x="10.6" y="233.8" width="191.1" height="206" fill="none" stroke="#4e4e4e" stroke-width="1.05"/>
<g transform="translate(10.6,233.8)"><g mask="url(#mb)"><g filter="url(#fDDS)"><rect x="-150" y="-150" width="500" height="500" fill="#757575"/><path d="M0,52 L20,54 L26,66 L34,82 L40,98 L38,110 L38,124 L24,134 L20,140 L30,146 L30,160 L34,185 L36,207 L10,207 L0,150Z" fill="#797979"/><path d="M40,98 L60,78 L80,80 L95,85 L112,115 L110,140 L80,150 L60,165 L34,160 L30,146 L38,124 L38,110Z" fill="#727272"/><path d="M76,84 L86,82 L96,100 L95,120 L97,140 L80,147 L72,142 L76,126 L78,110 L76,95Z" fill="#6e6e6e"/><path d="M20.3,54.2 L32.8,50.9 L39.5,47.5 L41.2,40.9 L49.5,31 L57.8,39.2 L62,50.9 L54.5,50.9 L49.5,52.5 L46.2,59.2 L45.3,69.2 L39.5,65.9 L32.8,69.2 L27.8,65.9 L22.8,62.5Z" fill="#6e6e6e"/><path d="M22,58 L28,68 L33,78 L37,88 L40,96" fill="none" stroke="#727272" stroke-width="7" stroke-linecap="round" stroke-linejoin="round"/><path d="M5,58 L7,75 L8,100 L13,120 L19,135 L23,150 L25,162" fill="none" stroke="#7c7c7c" stroke-width="10" stroke-linecap="round" stroke-linejoin="round"/><path d="M14,60 L20,70 L26,82" fill="none" stroke="#7c7c7c" stroke-width="10" stroke-linecap="round" stroke-linejoin="round"/><path d="M50,53 L48.5,66.2 L47,76" fill="none" stroke="#7c7c7c" stroke-width="10" stroke-linecap="round" stroke-linejoin="round"/><path d="M50,53 L59.5,53 L66.2,57.8 L72.8,52.8 L82.8,42.8 L92.8,39.5 L105.5,37.8 L108.5,34.5 L121.8,31.2 L135.2,27.8 L143.5,17.8 L155.2,9.5 L163.5,7" fill="none" stroke="#7c7c7c" stroke-width="10" stroke-linecap="round" stroke-linejoin="round"/><path d="M91.8,62 L100,62 L113.5,54.5 L126.8,47.8 L143.5,42.8 L155.2,37.8 L166.8,27.8 L176.8,21.2 L185.2,13.5" fill="none" stroke="#7c7c7c" stroke-width="10" stroke-linecap="round" stroke-linejoin="round"/><path d="M69,76 L70,86.2 L71.2,99.5 L72.8,112.8 L69.5,126.2 L66.2,139.5 L61.2,152.8" fill="none" stroke="#7c7c7c" stroke-width="10" stroke-linecap="round" stroke-linejoin="round"/><path d="M78,70 L88,67 L93,73" fill="none" stroke="#7c7c7c" stroke-width="10" stroke-linecap="round" stroke-linejoin="round"/><path d="M42.8,149.5 L47.8,166.2 L49.5,179.5 L51.2,192.8" fill="none" stroke="#7c7c7c" stroke-width="10" stroke-linecap="round" stroke-linejoin="round"/><path d="M19.5,152.8 L17.8,179.5 L22.8,196.2" fill="none" stroke="#7c7c7c" stroke-width="10" stroke-linecap="round" stroke-linejoin="round"/><path d="M25,200 L40,203" fill="none" stroke="#7c7c7c" stroke-width="10" stroke-linecap="round" stroke-linejoin="round"/><path d="M66,68 L76,63 L85,58 L95,54 L103.5,49.5 L115.2,42.8 L131.8,39.5 L145.2,31.2 L153.5,24.5 L163.5,17.8 L170.2,12.8 L178,9.5" fill="none" stroke="#6e6e6e" stroke-width="8" stroke-linecap="round" stroke-linejoin="round"/><path d="M58,90 L60,78 L64,70" fill="none" stroke="#6e6e6e" stroke-width="8" stroke-linecap="round" stroke-linejoin="round"/><path d="M32.8,143 L32.8,162.8 L34.5,176.2 L37.8,192.8" fill="none" stroke="#6e6e6e" stroke-width="8" stroke-linecap="round" stroke-linejoin="round"/><path d="M62,68 L72,66 L68,74 L64,84 L62,92 L58,101 L56.2,116.2 L55,129.5 L52,138 L44,142 L32,141 L24,137 L30,131 L40,126 L44,116 L42,106 L46,98 L52,92 L56,82Z" fill="#6b6b6b"/></g></g></g>
<text x="131.2" y="321.6" font-size="11.9" font-weight="bold" text-anchor="start" stroke="#000" stroke-width="0.3" >DDS</text>
<rect x="133.2" y="333.7" width="6.7" height="27.3" fill="url(#gCP)"/>
<text x="142.2" y="338.4" font-size="11.9" font-weight="bold" text-anchor="start" stroke="#000" stroke-width="0.3" >799</text>
<text x="142.2" y="365.4" font-size="11.9" font-weight="bold" text-anchor="start" stroke="#000" stroke-width="0.3" >: 0</text>
<rect x="226" y="233.8" width="191.3" height="206" fill="none" stroke="#4e4e4e" stroke-width="1.05"/>
<g transform="translate(226,233.8)"><g mask="url(#ms)"><g filter="url(#fDF)"><rect x="-150" y="-150" width="500" height="500" fill="#ffffff"/><path d="M20,54.5 L25,57.9 L26.7,62.9" fill="none" stroke="#e0e0e0" stroke-width="27" stroke-linecap="round" stroke-linejoin="round"/><path d="M40.8,50.4 L44.2,56.2 L48.3,64.5 L51.7,72.9 L50,77.9" fill="none" stroke="#e0e0e0" stroke-width="27" stroke-linecap="round" stroke-linejoin="round"/><path d="M50,41.2 L51.7,49.5 L55,57.9 L58.3,66.2 L63.3,74.5 L68.3,84.5" fill="none" stroke="#e0e0e0" stroke-width="27" stroke-linecap="round" stroke-linejoin="round"/><path d="M56.7,54.5 L61.7,59.5 L65,67.9 L66.7,76.2" fill="none" stroke="#e0e0e0" stroke-width="27" stroke-linecap="round" stroke-linejoin="round"/><path d="M36.7,76.2 L43.3,77.9 L53.3,77" fill="none" stroke="#e0e0e0" stroke-width="27" stroke-linecap="round" stroke-linejoin="round"/><path d="M81.7,34.5 L82.5,42.9 L85,51.2" fill="none" stroke="#e0e0e0" stroke-width="27" stroke-linecap="round" stroke-linejoin="round"/><path d="M100,32.9 L111.7,35.4 L123.3,33.7" fill="none" stroke="#e0e0e0" stroke-width="27" stroke-linecap="round" stroke-linejoin="round"/><path d="M115,44.5 L126.7,42.9 L136.7,37.9 L145,36.2" fill="none" stroke="#e0e0e0" stroke-width="27" stroke-linecap="round" stroke-linejoin="round"/><path d="M121.7,25.4 L130,27.9 L138.3,32 L146.7,41.2 L151.7,44.5" fill="none" stroke="#e0e0e0" stroke-width="27" stroke-linecap="round" stroke-linejoin="round"/><path d="M145,32.9 L156.7,29.5 L166.7,24.5 L176.7,17.9 L183.3,12.9" fill="none" stroke="#e0e0e0" stroke-width="27" stroke-linecap="round" stroke-linejoin="round"/><path d="M148.3,26.2 L160,24.5 L170,19.5" fill="none" stroke="#e0e0e0" stroke-width="27" stroke-linecap="round" stroke-linejoin="round"/><path d="M143.3,22 L143.8,22" fill="none" stroke="#e0e0e0" stroke-width="27" stroke-linecap="round" stroke-linejoin="round"/><path d="M161.7,18.7 L162,18.7" fill="none" stroke="#e0e0e0" stroke-width="27" stroke-linecap="round" stroke-linejoin="round"/><path d="M165,11.2 L176.7,11.2 L183.3,12" fill="none" stroke="#e0e0e0" stroke-width="27" stroke-linecap="round" stroke-linejoin="round"/><path d="M140,42.9 L150,41.2 L160,36.2 L168.3,31.2" fill="none" stroke="#e0e0e0" stroke-width="27" stroke-linecap="round" stroke-linejoin="round"/><path d="M116.7,52.9 L123.3,49.5" fill="none" stroke="#e0e0e0" stroke-width="27" stroke-linecap="round" stroke-linejoin="round"/><path d="M13.3,134.5 L15,147.9 L18.3,161.2 L20,176.2 L18.3,192.9 L19.2,199.5" fill="none" stroke="#e0e0e0" stroke-width="27" stroke-linecap="round" stroke-linejoin="round"/><path d="M21.7,136.2 L25,147.9 L26.7,161.2 L25,172.9 L28.3,186.2 L35,202.9" fill="none" stroke="#e0e0e0" stroke-width="27" stroke-linecap="round" stroke-linejoin="round"/><path d="M33.3,156.2 L35,166.2 L36.7,177.9 L40,189.5" fill="none" stroke="#e0e0e0" stroke-width="27" stroke-linecap="round" stroke-linejoin="round"/><path d="M40,157.9 L41.7,169.5 L45,179.5" fill="none" stroke="#e0e0e0" stroke-width="27" stroke-linecap="round" stroke-linejoin="round"/><path d="M41.7,122.9 L45,131.2 L48.3,142.9 L51.7,152.9" fill="none" stroke="#e0e0e0" stroke-width="27" stroke-linecap="round" stroke-linejoin="round"/><path d="M58.3,132.9 L56.7,144.5 L53.3,154.5" fill="none" stroke="#e0e0e0" stroke-width="27" stroke-linecap="round" stroke-linejoin="round"/><path d="M73.3,127.9 L78.3,131.2 L83.3,129.5" fill="none" stroke="#e0e0e0" stroke-width="27" stroke-linecap="round" stroke-linejoin="round"/><path d="M75,136.2 L75.5,136.2" fill="none" stroke="#e0e0e0" stroke-width="27" stroke-linecap="round" stroke-linejoin="round"/><path d="M63.3,136.2 L60,149.5" fill="none" stroke="#e0e0e0" stroke-width="27" stroke-linecap="round" stroke-linejoin="round"/><path d="M20,54.5 L25,57.9 L26.7,62.9" fill="none" stroke="#c2c2c2" stroke-width="22" stroke-linecap="round" stroke-linejoin="round"/><path d="M40.8,50.4 L44.2,56.2 L48.3,64.5 L51.7,72.9 L50,77.9" fill="none" stroke="#c2c2c2" stroke-width="22" stroke-linecap="round" stroke-linejoin="round"/><path d="M50,41.2 L51.7,49.5 L55,57.9 L58.3,66.2 L63.3,74.5 L68.3,84.5" fill="none" stroke="#c2c2c2" stroke-width="22" stroke-linecap="round" stroke-linejoin="round"/><path d="M56.7,54.5 L61.7,59.5 L65,67.9 L66.7,76.2" fill="none" stroke="#c2c2c2" stroke-width="22" stroke-linecap="round" stroke-linejoin="round"/><path d="M36.7,76.2 L43.3,77.9 L53.3,77" fill="none" stroke="#c2c2c2" stroke-width="22" stroke-linecap="round" stroke-linejoin="round"/><path d="M81.7,34.5 L82.5,42.9 L85,51.2" fill="none" stroke="#c2c2c2" stroke-width="22" stroke-linecap="round" stroke-linejoin="round"/><path d="M100,32.9 L111.7,35.4 L123.3,33.7" fill="none" stroke="#c2c2c2" stroke-width="22" stroke-linecap="round" stroke-linejoin="round"/><path d="M115,44.5 L126.7,42.9 L136.7,37.9 L145,36.2" fill="none" stroke="#c2c2c2" stroke-width="22" stroke-linecap="round" stroke-linejoin="round"/><path d="M121.7,25.4 L130,27.9 L138.3,32 L146.7,41.2 L151.7,44.5" fill="none" stroke="#c2c2c2" stroke-width="22" stroke-linecap="round" stroke-linejoin="round"/><path d="M145,32.9 L156.7,29.5 L166.7,24.5 L176.7,17.9 L183.3,12.9" fill="none" stroke="#c2c2c2" stroke-width="22" stroke-linecap="round" stroke-linejoin="round"/><path d="M148.3,26.2 L160,24.5 L170,19.5" fill="none" stroke="#c2c2c2" stroke-width="22" stroke-linecap="round" stroke-linejoin="round"/><path d="M143.3,22 L143.8,22" fill="none" stroke="#c2c2c2" stroke-width="22" stroke-linecap="round" stroke-linejoin="round"/><path d="M161.7,18.7 L162,18.7" fill="none" stroke="#c2c2c2" stroke-width="22" stroke-linecap="round" stroke-linejoin="round"/><path d="M165,11.2 L176.7,11.2 L183.3,12" fill="none" stroke="#c2c2c2" stroke-width="22" stroke-linecap="round" stroke-linejoin="round"/><path d="M140,42.9 L150,41.2 L160,36.2 L168.3,31.2" fill="none" stroke="#c2c2c2" stroke-width="22" stroke-linecap="round" stroke-linejoin="round"/><path d="M116.7,52.9 L123.3,49.5" fill="none" stroke="#c2c2c2" stroke-width="22" stroke-linecap="round" stroke-linejoin="round"/><path d="M13.3,134.5 L15,147.9 L18.3,161.2 L20,176.2 L18.3,192.9 L19.2,199.5" fill="none" stroke="#c2c2c2" stroke-width="22" stroke-linecap="round" stroke-linejoin="round"/><path d="M21.7,136.2 L25,147.9 L26.7,161.2 L25,172.9 L28.3,186.2 L35,202.9" fill="none" stroke="#c2c2c2" stroke-width="22" stroke-linecap="round" stroke-linejoin="round"/><path d="M33.3,156.2 L35,166.2 L36.7,177.9 L40,189.5" fill="none" stroke="#c2c2c2" stroke-width="22" stroke-linecap="round" stroke-linejoin="round"/><path d="M40,157.9 L41.7,169.5 L45,179.5" fill="none" stroke="#c2c2c2" stroke-width="22" stroke-linecap="round" stroke-linejoin="round"/><path d="M41.7,122.9 L45,131.2 L48.3,142.9 L51.7,152.9" fill="none" stroke="#c2c2c2" stroke-width="22" stroke-linecap="round" stroke-linejoin="round"/><path d="M58.3,132.9 L56.7,144.5 L53.3,154.5" fill="none" stroke="#c2c2c2" stroke-width="22" stroke-linecap="round" stroke-linejoin="round"/><path d="M73.3,127.9 L78.3,131.2 L83.3,129.5" fill="none" stroke="#c2c2c2" stroke-width="22" stroke-linecap="round" stroke-linejoin="round"/><path d="M75,136.2 L75.5,136.2" fill="none" stroke="#c2c2c2" stroke-width="22" stroke-linecap="round" stroke-linejoin="round"/><path d="M63.3,136.2 L60,149.5" fill="none" stroke="#c2c2c2" stroke-width="22" stroke-linecap="round" stroke-linejoin="round"/><path d="M20,54.5 L25,57.9 L26.7,62.9" fill="none" stroke="#a3a3a3" stroke-width="17.5" stroke-linecap="round" stroke-linejoin="round"/><path d="M40.8,50.4 L44.2,56.2 L48.3,64.5 L51.7,72.9 L50,77.9" fill="none" stroke="#a3a3a3" stroke-width="17.5" stroke-linecap="round" stroke-linejoin="round"/><path d="M50,41.2 L51.7,49.5 L55,57.9 L58.3,66.2 L63.3,74.5 L68.3,84.5" fill="none" stroke="#a3a3a3" stroke-width="17.5" stroke-linecap="round" stroke-linejoin="round"/><path d="M56.7,54.5 L61.7,59.5 L65,67.9 L66.7,76.2" fill="none" stroke="#a3a3a3" stroke-width="17.5" stroke-linecap="round" stroke-linejoin="round"/><path d="M36.7,76.2 L43.3,77.9 L53.3,77" fill="none" stroke="#a3a3a3" stroke-width="17.5" stroke-linecap="round" stroke-linejoin="round"/><path d="M81.7,34.5 L82.5,42.9 L85,51.2" fill="none" stroke="#a3a3a3" stroke-width="17.5" stroke-linecap="round" stroke-linejoin="round"/><path d="M100,32.9 L111.7,35.4 L123.3,33.7" fill="none" stroke="#a3a3a3" stroke-width="17.5" stroke-linecap="round" stroke-linejoin="round"/><path d="M115,44.5 L126.7,42.9 L136.7,37.9 L145,36.2" fill="none" stroke="#a3a3a3" stroke-width="17.5" stroke-linecap="round" stroke-linejoin="round"/><path d="M121.7,25.4 L130,27.9 L138.3,32 L146.7,41.2 L151.7,44.5" fill="none" stroke="#a3a3a3" stroke-width="17.5" stroke-linecap="round" stroke-linejoin="round"/><path d="M145,32.9 L156.7,29.5 L166.7,24.5 L176.7,17.9 L183.3,12.9" fill="none" stroke="#a3a3a3" stroke-width="17.5" stroke-linecap="round" stroke-linejoin="round"/><path d="M148.3,26.2 L160,24.5 L170,19.5" fill="none" stroke="#a3a3a3" stroke-width="17.5" stroke-linecap="round" stroke-linejoin="round"/><path d="M143.3,22 L143.8,22" fill="none" stroke="#a3a3a3" stroke-width="17.5" stroke-linecap="round" stroke-linejoin="round"/><path d="M161.7,18.7 L162,18.7" fill="none" stroke="#a3a3a3" stroke-width="17.5" stroke-linecap="round" stroke-linejoin="round"/><path d="M165,11.2 L176.7,11.2 L183.3,12" fill="none" stroke="#a3a3a3" stroke-width="17.5" stroke-linecap="round" stroke-linejoin="round"/><path d="M140,42.9 L150,41.2 L160,36.2 L168.3,31.2" fill="none" stroke="#a3a3a3" stroke-width="17.5" stroke-linecap="round" stroke-linejoin="round"/><path d="M116.7,52.9 L123.3,49.5" fill="none" stroke="#a3a3a3" stroke-width="17.5" stroke-linecap="round" stroke-linejoin="round"/><path d="M13.3,134.5 L15,147.9 L18.3,161.2 L20,176.2 L18.3,192.9 L19.2,199.5" fill="none" stroke="#a3a3a3" stroke-width="17.5" stroke-linecap="round" stroke-linejoin="round"/><path d="M21.7,136.2 L25,147.9 L26.7,161.2 L25,172.9 L28.3,186.2 L35,202.9" fill="none" stroke="#a3a3a3" stroke-width="17.5" stroke-linecap="round" stroke-linejoin="round"/><path d="M33.3,156.2 L35,166.2 L36.7,177.9 L40,189.5" fill="none" stroke="#a3a3a3" stroke-width="17.5" stroke-linecap="round" stroke-linejoin="round"/><path d="M40,157.9 L41.7,169.5 L45,179.5" fill="none" stroke="#a3a3a3" stroke-width="17.5" stroke-linecap="round" stroke-linejoin="round"/><path d="M41.7,122.9 L45,131.2 L48.3,142.9 L51.7,152.9" fill="none" stroke="#a3a3a3" stroke-width="17.5" stroke-linecap="round" stroke-linejoin="round"/><path d="M58.3,132.9 L56.7,144.5 L53.3,154.5" fill="none" stroke="#a3a3a3" stroke-width="17.5" stroke-linecap="round" stroke-linejoin="round"/><path d="M73.3,127.9 L78.3,131.2 L83.3,129.5" fill="none" stroke="#a3a3a3" stroke-width="17.5" stroke-linecap="round" stroke-linejoin="round"/><path d="M75,136.2 L75.5,136.2" fill="none" stroke="#a3a3a3" stroke-width="17.5" stroke-linecap="round" stroke-linejoin="round"/><path d="M63.3,136.2 L60,149.5" fill="none" stroke="#a3a3a3" stroke-width="17.5" stroke-linecap="round" stroke-linejoin="round"/><path d="M20,54.5 L25,57.9 L26.7,62.9" fill="none" stroke="#8a8a8a" stroke-width="14" stroke-linecap="round" stroke-linejoin="round"/><path d="M40.8,50.4 L44.2,56.2 L48.3,64.5 L51.7,72.9 L50,77.9" fill="none" stroke="#8a8a8a" stroke-width="14" stroke-linecap="round" stroke-linejoin="round"/><path d="M50,41.2 L51.7,49.5 L55,57.9 L58.3,66.2 L63.3,74.5 L68.3,84.5" fill="none" stroke="#8a8a8a" stroke-width="14" stroke-linecap="round" stroke-linejoin="round"/><path d="M56.7,54.5 L61.7,59.5 L65,67.9 L66.7,76.2" fill="none" stroke="#8a8a8a" stroke-width="14" stroke-linecap="round" stroke-linejoin="round"/><path d="M36.7,76.2 L43.3,77.9 L53.3,77" fill="none" stroke="#8a8a8a" stroke-width="14" stroke-linecap="round" stroke-linejoin="round"/><path d="M81.7,34.5 L82.5,42.9 L85,51.2" fill="none" stroke="#8a8a8a" stroke-width="14" stroke-linecap="round" stroke-linejoin="round"/><path d="M100,32.9 L111.7,35.4 L123.3,33.7" fill="none" stroke="#8a8a8a" stroke-width="14" stroke-linecap="round" stroke-linejoin="round"/><path d="M115,44.5 L126.7,42.9 L136.7,37.9 L145,36.2" fill="none" stroke="#8a8a8a" stroke-width="14" stroke-linecap="round" stroke-linejoin="round"/><path d="M121.7,25.4 L130,27.9 L138.3,32 L146.7,41.2 L151.7,44.5" fill="none" stroke="#8a8a8a" stroke-width="14" stroke-linecap="round" stroke-linejoin="round"/><path d="M145,32.9 L156.7,29.5 L166.7,24.5 L176.7,17.9 L183.3,12.9" fill="none" stroke="#8a8a8a" stroke-width="14" stroke-linecap="round" stroke-linejoin="round"/><path d="M148.3,26.2 L160,24.5 L170,19.5" fill="none" stroke="#8a8a8a" stroke-width="14" stroke-linecap="round" stroke-linejoin="round"/><path d="M143.3,22 L143.8,22" fill="none" stroke="#8a8a8a" stroke-width="14" stroke-linecap="round" stroke-linejoin="round"/><path d="M161.7,18.7 L162,18.7" fill="none" stroke="#8a8a8a" stroke-width="14" stroke-linecap="round" stroke-linejoin="round"/><path d="M165,11.2 L176.7,11.2 L183.3,12" fill="none" stroke="#8a8a8a" stroke-width="14" stroke-linecap="round" stroke-linejoin="round"/><path d="M140,42.9 L150,41.2 L160,36.2 L168.3,31.2" fill="none" stroke="#8a8a8a" stroke-width="14" stroke-linecap="round" stroke-linejoin="round"/><path d="M116.7,52.9 L123.3,49.5" fill="none" stroke="#8a8a8a" stroke-width="14" stroke-linecap="round" stroke-linejoin="round"/><path d="M13.3,134.5 L15,147.9 L18.3,161.2 L20,176.2 L18.3,192.9 L19.2,199.5" fill="none" stroke="#8a8a8a" stroke-width="14" stroke-linecap="round" stroke-linejoin="round"/><path d="M21.7,136.2 L25,147.9 L26.7,161.2 L25,172.9 L28.3,186.2 L35,202.9" fill="none" stroke="#8a8a8a" stroke-width="14" stroke-linecap="round" stroke-linejoin="round"/><path d="M33.3,156.2 L35,166.2 L36.7,177.9 L40,189.5" fill="none" stroke="#8a8a8a" stroke-width="14" stroke-linecap="round" stroke-linejoin="round"/><path d="M40,157.9 L41.7,169.5 L45,179.5" fill="none" stroke="#8a8a8a" stroke-width="14" stroke-linecap="round" stroke-linejoin="round"/><path d="M41.7,122.9 L45,131.2 L48.3,142.9 L51.7,152.9" fill="none" stroke="#8a8a8a" stroke-width="14" stroke-linecap="round" stroke-linejoin="round"/><path d="M58.3,132.9 L56.7,144.5 L53.3,154.5" fill="none" stroke="#8a8a8a" stroke-width="14" stroke-linecap="round" stroke-linejoin="round"/><path d="M73.3,127.9 L78.3,131.2 L83.3,129.5" fill="none" stroke="#8a8a8a" stroke-width="14" stroke-linecap="round" stroke-linejoin="round"/><path d="M75,136.2 L75.5,136.2" fill="none" stroke="#8a8a8a" stroke-width="14" stroke-linecap="round" stroke-linejoin="round"/><path d="M63.3,136.2 L60,149.5" fill="none" stroke="#8a8a8a" stroke-width="14" stroke-linecap="round" stroke-linejoin="round"/><path d="M20,54.5 L25,57.9 L26.7,62.9" fill="none" stroke="#737373" stroke-width="11" stroke-linecap="round" stroke-linejoin="round"/><path d="M40.8,50.4 L44.2,56.2 L48.3,64.5 L51.7,72.9 L50,77.9" fill="none" stroke="#737373" stroke-width="11" stroke-linecap="round" stroke-linejoin="round"/><path d="M50,41.2 L51.7,49.5 L55,57.9 L58.3,66.2 L63.3,74.5 L68.3,84.5" fill="none" stroke="#737373" stroke-width="11" stroke-linecap="round" stroke-linejoin="round"/><path d="M56.7,54.5 L61.7,59.5 L65,67.9 L66.7,76.2" fill="none" stroke="#737373" stroke-width="11" stroke-linecap="round" stroke-linejoin="round"/><path d="M36.7,76.2 L43.3,77.9 L53.3,77" fill="none" stroke="#737373" stroke-width="11" stroke-linecap="round" stroke-linejoin="round"/><path d="M81.7,34.5 L82.5,42.9 L85,51.2" fill="none" stroke="#737373" stroke-width="11" stroke-linecap="round" stroke-linejoin="round"/><path d="M100,32.9 L111.7,35.4 L123.3,33.7" fill="none" stroke="#737373" stroke-width="11" stroke-linecap="round" stroke-linejoin="round"/><path d="M115,44.5 L126.7,42.9 L136.7,37.9 L145,36.2" fill="none" stroke="#737373" stroke-width="11" stroke-linecap="round" stroke-linejoin="round"/><path d="M121.7,25.4 L130,27.9 L138.3,32 L146.7,41.2 L151.7,44.5" fill="none" stroke="#737373" stroke-width="11" stroke-linecap="round" stroke-linejoin="round"/><path d="M145,32.9 L156.7,29.5 L166.7,24.5 L176.7,17.9 L183.3,12.9" fill="none" stroke="#737373" stroke-width="11" stroke-linecap="round" stroke-linejoin="round"/><path d="M148.3,26.2 L160,24.5 L170,19.5" fill="none" stroke="#737373" stroke-width="11" stroke-linecap="round" stroke-linejoin="round"/><path d="M143.3,22 L143.8,22" fill="none" stroke="#737373" stroke-width="11" stroke-linecap="round" stroke-linejoin="round"/><path d="M161.7,18.7 L162,18.7" fill="none" stroke="#737373" stroke-width="11" stroke-linecap="round" stroke-linejoin="round"/><path d="M165,11.2 L176.7,11.2 L183.3,12" fill="none" stroke="#737373" stroke-width="11" stroke-linecap="round" stroke-linejoin="round"/><path d="M140,42.9 L150,41.2 L160,36.2 L168.3,31.2" fill="none" stroke="#737373" stroke-width="11" stroke-linecap="round" stroke-linejoin="round"/><path d="M116.7,52.9 L123.3,49.5" fill="none" stroke="#737373" stroke-width="11" stroke-linecap="round" stroke-linejoin="round"/><path d="M13.3,134.5 L15,147.9 L18.3,161.2 L20,176.2 L18.3,192.9 L19.2,199.5" fill="none" stroke="#737373" stroke-width="11" stroke-linecap="round" stroke-linejoin="round"/><path d="M21.7,136.2 L25,147.9 L26.7,161.2 L25,172.9 L28.3,186.2 L35,202.9" fill="none" stroke="#737373" stroke-width="11" stroke-linecap="round" stroke-linejoin="round"/><path d="M33.3,156.2 L35,166.2 L36.7,177.9 L40,189.5" fill="none" stroke="#737373" stroke-width="11" stroke-linecap="round" stroke-linejoin="round"/><path d="M40,157.9 L41.7,169.5 L45,179.5" fill="none" stroke="#737373" stroke-width="11" stroke-linecap="round" stroke-linejoin="round"/><path d="M41.7,122.9 L45,131.2 L48.3,142.9 L51.7,152.9" fill="none" stroke="#737373" stroke-width="11" stroke-linecap="round" stroke-linejoin="round"/><path d="M58.3,132.9 L56.7,144.5 L53.3,154.5" fill="none" stroke="#737373" stroke-width="11" stroke-linecap="round" stroke-linejoin="round"/><path d="M73.3,127.9 L78.3,131.2 L83.3,129.5" fill="none" stroke="#737373" stroke-width="11" stroke-linecap="round" stroke-linejoin="round"/><path d="M75,136.2 L75.5,136.2" fill="none" stroke="#737373" stroke-width="11" stroke-linecap="round" stroke-linejoin="round"/><path d="M63.3,136.2 L60,149.5" fill="none" stroke="#737373" stroke-width="11" stroke-linecap="round" stroke-linejoin="round"/><path d="M20,54.5 L25,57.9 L26.7,62.9" fill="none" stroke="#5e5e5e" stroke-width="8" stroke-linecap="round" stroke-linejoin="round"/><path d="M40.8,50.4 L44.2,56.2 L48.3,64.5 L51.7,72.9 L50,77.9" fill="none" stroke="#5e5e5e" stroke-width="8" stroke-linecap="round" stroke-linejoin="round"/><path d="M50,41.2 L51.7,49.5 L55,57.9 L58.3,66.2 L63.3,74.5 L68.3,84.5" fill="none" stroke="#5e5e5e" stroke-width="8" stroke-linecap="round" stroke-linejoin="round"/><path d="M56.7,54.5 L61.7,59.5 L65,67.9 L66.7,76.2" fill="none" stroke="#5e5e5e" stroke-width="8" stroke-linecap="round" stroke-linejoin="round"/><path d="M36.7,76.2 L43.3,77.9 L53.3,77" fill="none" stroke="#5e5e5e" stroke-width="8" stroke-linecap="round" stroke-linejoin="round"/><path d="M81.7,34.5 L82.5,42.9 L85,51.2" fill="none" stroke="#5e5e5e" stroke-width="8" stroke-linecap="round" stroke-linejoin="round"/><path d="M100,32.9 L111.7,35.4 L123.3,33.7" fill="none" stroke="#5e5e5e" stroke-width="8" stroke-linecap="round" stroke-linejoin="round"/><path d="M115,44.5 L126.7,42.9 L136.7,37.9 L145,36.2" fill="none" stroke="#5e5e5e" stroke-width="8" stroke-linecap="round" stroke-linejoin="round"/><path d="M121.7,25.4 L130,27.9 L138.3,32 L146.7,41.2 L151.7,44.5" fill="none" stroke="#5e5e5e" stroke-width="8" stroke-linecap="round" stroke-linejoin="round"/><path d="M145,32.9 L156.7,29.5 L166.7,24.5 L176.7,17.9 L183.3,12.9" fill="none" stroke="#5e5e5e" stroke-width="8" stroke-linecap="round" stroke-linejoin="round"/><path d="M148.3,26.2 L160,24.5 L170,19.5" fill="none" stroke="#5e5e5e" stroke-width="8" stroke-linecap="round" stroke-linejoin="round"/><path d="M143.3,22 L143.8,22" fill="none" stroke="#5e5e5e" stroke-width="8" stroke-linecap="round" stroke-linejoin="round"/><path d="M161.7,18.7 L162,18.7" fill="none" stroke="#5e5e5e" stroke-width="8" stroke-linecap="round" stroke-linejoin="round"/><path d="M165,11.2 L176.7,11.2 L183.3,12" fill="none" stroke="#5e5e5e" stroke-width="8" stroke-linecap="round" stroke-linejoin="round"/><path d="M140,42.9 L150,41.2 L160,36.2 L168.3,31.2" fill="none" stroke="#5e5e5e" stroke-width="8" stroke-linecap="round" stroke-linejoin="round"/><path d="M116.7,52.9 L123.3,49.5" fill="none" stroke="#5e5e5e" stroke-width="8" stroke-linecap="round" stroke-linejoin="round"/><path d="M13.3,134.5 L15,147.9 L18.3,161.2 L20,176.2 L18.3,192.9 L19.2,199.5" fill="none" stroke="#5e5e5e" stroke-width="8" stroke-linecap="round" stroke-linejoin="round"/><path d="M21.7,136.2 L25,147.9 L26.7,161.2 L25,172.9 L28.3,186.2 L35,202.9" fill="none" stroke="#5e5e5e" stroke-width="8" stroke-linecap="round" stroke-linejoin="round"/><path d="M33.3,156.2 L35,166.2 L36.7,177.9 L40,189.5" fill="none" stroke="#5e5e5e" stroke-width="8" stroke-linecap="round" stroke-linejoin="round"/><path d="M40,157.9 L41.7,169.5 L45,179.5" fill="none" stroke="#5e5e5e" stroke-width="8" stroke-linecap="round" stroke-linejoin="round"/><path d="M41.7,122.9 L45,131.2 L48.3,142.9 L51.7,152.9" fill="none" stroke="#5e5e5e" stroke-width="8" stroke-linecap="round" stroke-linejoin="round"/><path d="M58.3,132.9 L56.7,144.5 L53.3,154.5" fill="none" stroke="#5e5e5e" stroke-width="8" stroke-linecap="round" stroke-linejoin="round"/><path d="M73.3,127.9 L78.3,131.2 L83.3,129.5" fill="none" stroke="#5e5e5e" stroke-width="8" stroke-linecap="round" stroke-linejoin="round"/><path d="M75,136.2 L75.5,136.2" fill="none" stroke="#5e5e5e" stroke-width="8" stroke-linecap="round" stroke-linejoin="round"/><path d="M63.3,136.2 L60,149.5" fill="none" stroke="#5e5e5e" stroke-width="8" stroke-linecap="round" stroke-linejoin="round"/><path d="M20,54.5 L25,57.9 L26.7,62.9" fill="none" stroke="#454545" stroke-width="5.4" stroke-linecap="round" stroke-linejoin="round"/><path d="M40.8,50.4 L44.2,56.2 L48.3,64.5 L51.7,72.9 L50,77.9" fill="none" stroke="#454545" stroke-width="5.4" stroke-linecap="round" stroke-linejoin="round"/><path d="M50,41.2 L51.7,49.5 L55,57.9 L58.3,66.2 L63.3,74.5 L68.3,84.5" fill="none" stroke="#454545" stroke-width="5.4" stroke-linecap="round" stroke-linejoin="round"/><path d="M56.7,54.5 L61.7,59.5 L65,67.9 L66.7,76.2" fill="none" stroke="#454545" stroke-width="5.4" stroke-linecap="round" stroke-linejoin="round"/><path d="M36.7,76.2 L43.3,77.9 L53.3,77" fill="none" stroke="#454545" stroke-width="5.4" stroke-linecap="round" stroke-linejoin="round"/><path d="M81.7,34.5 L82.5,42.9 L85,51.2" fill="none" stroke="#454545" stroke-width="5.4" stroke-linecap="round" stroke-linejoin="round"/><path d="M100,32.9 L111.7,35.4 L123.3,33.7" fill="none" stroke="#454545" stroke-width="5.4" stroke-linecap="round" stroke-linejoin="round"/><path d="M115,44.5 L126.7,42.9 L136.7,37.9 L145,36.2" fill="none" stroke="#454545" stroke-width="5.4" stroke-linecap="round" stroke-linejoin="round"/><path d="M121.7,25.4 L130,27.9 L138.3,32 L146.7,41.2 L151.7,44.5" fill="none" stroke="#454545" stroke-width="5.4" stroke-linecap="round" stroke-linejoin="round"/><path d="M145,32.9 L156.7,29.5 L166.7,24.5 L176.7,17.9 L183.3,12.9" fill="none" stroke="#454545" stroke-width="5.4" stroke-linecap="round" stroke-linejoin="round"/><path d="M148.3,26.2 L160,24.5 L170,19.5" fill="none" stroke="#454545" stroke-width="5.4" stroke-linecap="round" stroke-linejoin="round"/><path d="M143.3,22 L143.8,22" fill="none" stroke="#454545" stroke-width="5.4" stroke-linecap="round" stroke-linejoin="round"/><path d="M161.7,18.7 L162,18.7" fill="none" stroke="#454545" stroke-width="5.4" stroke-linecap="round" stroke-linejoin="round"/><path d="M165,11.2 L176.7,11.2 L183.3,12" fill="none" stroke="#454545" stroke-width="5.4" stroke-linecap="round" stroke-linejoin="round"/><path d="M140,42.9 L150,41.2 L160,36.2 L168.3,31.2" fill="none" stroke="#454545" stroke-width="5.4" stroke-linecap="round" stroke-linejoin="round"/><path d="M116.7,52.9 L123.3,49.5" fill="none" stroke="#454545" stroke-width="5.4" stroke-linecap="round" stroke-linejoin="round"/><path d="M13.3,134.5 L15,147.9 L18.3,161.2 L20,176.2 L18.3,192.9 L19.2,199.5" fill="none" stroke="#454545" stroke-width="5.4" stroke-linecap="round" stroke-linejoin="round"/><path d="M21.7,136.2 L25,147.9 L26.7,161.2 L25,172.9 L28.3,186.2 L35,202.9" fill="none" stroke="#454545" stroke-width="5.4" stroke-linecap="round" stroke-linejoin="round"/><path d="M33.3,156.2 L35,166.2 L36.7,177.9 L40,189.5" fill="none" stroke="#454545" stroke-width="5.4" stroke-linecap="round" stroke-linejoin="round"/><path d="M40,157.9 L41.7,169.5 L45,179.5" fill="none" stroke="#454545" stroke-width="5.4" stroke-linecap="round" stroke-linejoin="round"/><path d="M41.7,122.9 L45,131.2 L48.3,142.9 L51.7,152.9" fill="none" stroke="#454545" stroke-width="5.4" stroke-linecap="round" stroke-linejoin="round"/><path d="M58.3,132.9 L56.7,144.5 L53.3,154.5" fill="none" stroke="#454545" stroke-width="5.4" stroke-linecap="round" stroke-linejoin="round"/><path d="M73.3,127.9 L78.3,131.2 L83.3,129.5" fill="none" stroke="#454545" stroke-width="5.4" stroke-linecap="round" stroke-linejoin="round"/><path d="M75,136.2 L75.5,136.2" fill="none" stroke="#454545" stroke-width="5.4" stroke-linecap="round" stroke-linejoin="round"/><path d="M63.3,136.2 L60,149.5" fill="none" stroke="#454545" stroke-width="5.4" stroke-linecap="round" stroke-linejoin="round"/><path d="M20,54.5 L25,57.9 L26.7,62.9" fill="none" stroke="#1f1f1f" stroke-width="3.2" stroke-linecap="round" stroke-linejoin="round"/><path d="M40.8,50.4 L44.2,56.2 L48.3,64.5 L51.7,72.9 L50,77.9" fill="none" stroke="#1f1f1f" stroke-width="3.2" stroke-linecap="round" stroke-linejoin="round"/><path d="M50,41.2 L51.7,49.5 L55,57.9 L58.3,66.2 L63.3,74.5 L68.3,84.5" fill="none" stroke="#1f1f1f" stroke-width="3.2" stroke-linecap="round" stroke-linejoin="round"/><path d="M56.7,54.5 L61.7,59.5 L65,67.9 L66.7,76.2" fill="none" stroke="#1f1f1f" stroke-width="3.2" stroke-linecap="round" stroke-linejoin="round"/><path d="M36.7,76.2 L43.3,77.9 L53.3,77" fill="none" stroke="#1f1f1f" stroke-width="3.2" stroke-linecap="round" stroke-linejoin="round"/><path d="M81.7,34.5 L82.5,42.9 L85,51.2" fill="none" stroke="#1f1f1f" stroke-width="3.2" stroke-linecap="round" stroke-linejoin="round"/><path d="M100,32.9 L111.7,35.4 L123.3,33.7" fill="none" stroke="#1f1f1f" stroke-width="3.2" stroke-linecap="round" stroke-linejoin="round"/><path d="M115,44.5 L126.7,42.9 L136.7,37.9 L145,36.2" fill="none" stroke="#1f1f1f" stroke-width="3.2" stroke-linecap="round" stroke-linejoin="round"/><path d="M121.7,25.4 L130,27.9 L138.3,32 L146.7,41.2 L151.7,44.5" fill="none" stroke="#1f1f1f" stroke-width="3.2" stroke-linecap="round" stroke-linejoin="round"/><path d="M145,32.9 L156.7,29.5 L166.7,24.5 L176.7,17.9 L183.3,12.9" fill="none" stroke="#1f1f1f" stroke-width="3.2" stroke-linecap="round" stroke-linejoin="round"/><path d="M148.3,26.2 L160,24.5 L170,19.5" fill="none" stroke="#1f1f1f" stroke-width="3.2" stroke-linecap="round" stroke-linejoin="round"/><path d="M143.3,22 L143.8,22" fill="none" stroke="#1f1f1f" stroke-width="3.2" stroke-linecap="round" stroke-linejoin="round"/><path d="M161.7,18.7 L162,18.7" fill="none" stroke="#1f1f1f" stroke-width="3.2" stroke-linecap="round" stroke-linejoin="round"/><path d="M165,11.2 L176.7,11.2 L183.3,12" fill="none" stroke="#1f1f1f" stroke-width="3.2" stroke-linecap="round" stroke-linejoin="round"/><path d="M140,42.9 L150,41.2 L160,36.2 L168.3,31.2" fill="none" stroke="#1f1f1f" stroke-width="3.2" stroke-linecap="round" stroke-linejoin="round"/><path d="M116.7,52.9 L123.3,49.5" fill="none" stroke="#1f1f1f" stroke-width="3.2" stroke-linecap="round" stroke-linejoin="round"/><path d="M13.3,134.5 L15,147.9 L18.3,161.2 L20,176.2 L18.3,192.9 L19.2,199.5" fill="none" stroke="#1f1f1f" stroke-width="3.2" stroke-linecap="round" stroke-linejoin="round"/><path d="M21.7,136.2 L25,147.9 L26.7,161.2 L25,172.9 L28.3,186.2 L35,202.9" fill="none" stroke="#1f1f1f" stroke-width="3.2" stroke-linecap="round" stroke-linejoin="round"/><path d="M33.3,156.2 L35,166.2 L36.7,177.9 L40,189.5" fill="none" stroke="#1f1f1f" stroke-width="3.2" stroke-linecap="round" stroke-linejoin="round"/><path d="M40,157.9 L41.7,169.5 L45,179.5" fill="none" stroke="#1f1f1f" stroke-width="3.2" stroke-linecap="round" stroke-linejoin="round"/><path d="M41.7,122.9 L45,131.2 L48.3,142.9 L51.7,152.9" fill="none" stroke="#1f1f1f" stroke-width="3.2" stroke-linecap="round" stroke-linejoin="round"/><path d="M58.3,132.9 L56.7,144.5 L53.3,154.5" fill="none" stroke="#1f1f1f" stroke-width="3.2" stroke-linecap="round" stroke-linejoin="round"/><path d="M73.3,127.9 L78.3,131.2 L83.3,129.5" fill="none" stroke="#1f1f1f" stroke-width="3.2" stroke-linecap="round" stroke-linejoin="round"/><path d="M75,136.2 L75.5,136.2" fill="none" stroke="#1f1f1f" stroke-width="3.2" stroke-linecap="round" stroke-linejoin="round"/><path d="M63.3,136.2 L60,149.5" fill="none" stroke="#1f1f1f" stroke-width="3.2" stroke-linecap="round" stroke-linejoin="round"/><path d="M20,54.5 L25,57.9 L26.7,62.9" fill="none" stroke="#050505" stroke-width="1.5" stroke-linecap="round" stroke-linejoin="round"/><path d="M40.8,50.4 L44.2,56.2 L48.3,64.5 L51.7,72.9 L50,77.9" fill="none" stroke="#050505" stroke-width="1.5" stroke-linecap="round" stroke-linejoin="round"/><path d="M50,41.2 L51.7,49.5 L55,57.9 L58.3,66.2 L63.3,74.5 L68.3,84.5" fill="none" stroke="#050505" stroke-width="1.5" stroke-linecap="round" stroke-linejoin="round"/><path d="M56.7,54.5 L61.7,59.5 L65,67.9 L66.7,76.2" fill="none" stroke="#050505" stroke-width="1.5" stroke-linecap="round" stroke-linejoin="round"/><path d="M36.7,76.2 L43.3,77.9 L53.3,77" fill="none" stroke="#050505" stroke-width="1.5" stroke-linecap="round" stroke-linejoin="round"/><path d="M81.7,34.5 L82.5,42.9 L85,51.2" fill="none" stroke="#050505" stroke-width="1.5" stroke-linecap="round" stroke-linejoin="round"/><path d="M100,32.9 L111.7,35.4 L123.3,33.7" fill="none" stroke="#050505" stroke-width="1.5" stroke-linecap="round" stroke-linejoin="round"/><path d="M115,44.5 L126.7,42.9 L136.7,37.9 L145,36.2" fill="none" stroke="#050505" stroke-width="1.5" stroke-linecap="round" stroke-linejoin="round"/><path d="M121.7,25.4 L130,27.9 L138.3,32 L146.7,41.2 L151.7,44.5" fill="none" stroke="#050505" stroke-width="1.5" stroke-linecap="round" stroke-linejoin="round"/><path d="M145,32.9 L156.7,29.5 L166.7,24.5 L176.7,17.9 L183.3,12.9" fill="none" stroke="#050505" stroke-width="1.5" stroke-linecap="round" stroke-linejoin="round"/><path d="M148.3,26.2 L160,24.5 L170,19.5" fill="none" stroke="#050505" stroke-width="1.5" stroke-linecap="round" stroke-linejoin="round"/><path d="M143.3,22 L143.8,22" fill="none" stroke="#050505" stroke-width="1.5" stroke-linecap="round" stroke-linejoin="round"/><path d="M161.7,18.7 L162,18.7" fill="none" stroke="#050505" stroke-width="1.5" stroke-linecap="round" stroke-linejoin="round"/><path d="M165,11.2 L176.7,11.2 L183.3,12" fill="none" stroke="#050505" stroke-width="1.5" stroke-linecap="round" stroke-linejoin="round"/><path d="M140,42.9 L150,41.2 L160,36.2 L168.3,31.2" fill="none" stroke="#050505" stroke-width="1.5" stroke-linecap="round" stroke-linejoin="round"/><path d="M116.7,52.9 L123.3,49.5" fill="none" stroke="#050505" stroke-width="1.5" stroke-linecap="round" stroke-linejoin="round"/><path d="M13.3,134.5 L15,147.9 L18.3,161.2 L20,176.2 L18.3,192.9 L19.2,199.5" fill="none" stroke="#050505" stroke-width="1.5" stroke-linecap="round" stroke-linejoin="round"/><path d="M21.7,136.2 L25,147.9 L26.7,161.2 L25,172.9 L28.3,186.2 L35,202.9" fill="none" stroke="#050505" stroke-width="1.5" stroke-linecap="round" stroke-linejoin="round"/><path d="M33.3,156.2 L35,166.2 L36.7,177.9 L40,189.5" fill="none" stroke="#050505" stroke-width="1.5" stroke-linecap="round" stroke-linejoin="round"/><path d="M40,157.9 L41.7,169.5 L45,179.5" fill="none" stroke="#050505" stroke-width="1.5" stroke-linecap="round" stroke-linejoin="round"/><path d="M41.7,122.9 L45,131.2 L48.3,142.9 L51.7,152.9" fill="none" stroke="#050505" stroke-width="1.5" stroke-linecap="round" stroke-linejoin="round"/><path d="M58.3,132.9 L56.7,144.5 L53.3,154.5" fill="none" stroke="#050505" stroke-width="1.5" stroke-linecap="round" stroke-linejoin="round"/><path d="M73.3,127.9 L78.3,131.2 L83.3,129.5" fill="none" stroke="#050505" stroke-width="1.5" stroke-linecap="round" stroke-linejoin="round"/><path d="M75,136.2 L75.5,136.2" fill="none" stroke="#050505" stroke-width="1.5" stroke-linecap="round" stroke-linejoin="round"/><path d="M63.3,136.2 L60,149.5" fill="none" stroke="#050505" stroke-width="1.5" stroke-linecap="round" stroke-linejoin="round"/></g></g></g>
<text x="351.6" y="321.6" font-size="11.9" font-weight="bold" text-anchor="start" stroke="#000" stroke-width="0.3" >DF</text>
<rect x="353.8" y="333.3" width="6.6" height="27.5" fill="url(#gDF)"/>
<text x="366" y="338.1" font-size="11.9" font-weight="bold" text-anchor="start" stroke="#000" stroke-width="0.3" >6649</text>
<text x="363" y="365.4" font-size="11.9" font-weight="bold" text-anchor="start" stroke="#000" stroke-width="0.3" >: 0</text>
<rect x="441.5" y="233.8" width="190.9" height="206" fill="none" stroke="#4e4e4e" stroke-width="1.05"/>
<g transform="translate(441.5,233.8) scale(1.009,1)"><g mask="url(#mb)"><g filter="url(#fIL)"><rect x="-150" y="-150" width="500" height="500" fill="#8f8f8f"/><path d="M0,52 L20,54 L26,66 L34,82 L40,98 L38,110 L38,124 L24,134 L20,140 L30,146 L30,160 L34,185 L36,207 L10,207 L0,150Z" fill="#949494"/><path d="M40,98 L60,78 L80,80 L95,85 L112,115 L110,140 L80,150 L60,165 L34,160 L30,146 L38,124 L38,110Z" fill="#333333"/><path d="M20.3,54.2 L32.8,50.9 L39.5,47.5 L41.2,40.9 L49.5,31 L57.8,39.2 L62,50.9 L54.5,50.9 L49.5,52.5 L46.2,59.2 L45.3,69.2 L39.5,65.9 L32.8,69.2 L27.8,65.9 L22.8,62.5Z" fill="#5c5c5c"/><path d="M30,52 L44,44 L50,36" fill="none" stroke="#5c5c5c" stroke-width="8" stroke-linecap="round" stroke-linejoin="round"/><path d="M22,58 L28,68 L33,78 L37,88 L40,96" fill="none" stroke="#4c4c4c" stroke-width="11" stroke-linecap="round" stroke-linejoin="round"/><path d="M76,84 L86,82 L96,100 L95,120 L97,140 L80,147 L72,142 L76,126 L78,110 L76,95Z" fill="#2b2b2b"/><path d="M5,58 L7,75 L8,100 L13,120 L19,135 L23,150 L25,162" fill="none" stroke="#a8a8a8" stroke-width="9" stroke-linecap="round" stroke-linejoin="round"/><path d="M50,53 L48.5,66.2 L47,76" fill="none" stroke="#b8b8b8" stroke-width="6" stroke-linecap="round" stroke-linejoin="round"/><path d="M50,53 L59.5,53 L66.2,57.8 L72.8,52.8 L82.8,42.8 L92.8,39.5 L105.5,37.8 L108.5,34.5 L121.8,31.2 L135.2,27.8 L143.5,17.8 L155.2,9.5 L163.5,7" fill="none" stroke="#9e9e9e" stroke-width="8" stroke-linecap="round" stroke-linejoin="round"/><path d="M91.8,62 L100,62 L113.5,54.5 L126.8,47.8 L143.5,42.8 L155.2,37.8 L166.8,27.8 L176.8,21.2 L185.2,13.5" fill="none" stroke="#9e9e9e" stroke-width="8" stroke-linecap="round" stroke-linejoin="round"/><path d="M42.8,149.5 L47.8,166.2 L49.5,179.5 L51.2,192.8" fill="none" stroke="#999999" stroke-width="7" stroke-linecap="round" stroke-linejoin="round"/><path d="M19.5,152.8 L17.8,179.5 L22.8,196.2" fill="none" stroke="#a3a3a3" stroke-width="8" stroke-linecap="round" stroke-linejoin="round"/><path d="M132,26 L142,15 L152,9" fill="none" stroke="#525252" stroke-width="4" stroke-linecap="round" stroke-linejoin="round"/><path d="M90,64 L100,68 L108,74" fill="none" stroke="#4c4c4c" stroke-width="5" stroke-linecap="round" stroke-linejoin="round"/><path d="M100,40 L112,36" fill="none" stroke="#575757" stroke-width="4" stroke-linecap="round" stroke-linejoin="round"/><path d="M66,68 L76,63 L85,58 L95,54 L103.5,49.5 L115.2,42.8 L131.8,39.5 L145.2,31.2 L153.5,24.5 L163.5,17.8 L170.2,12.8 L178,9.5" fill="none" stroke="#0d0d0d" stroke-width="4.5" stroke-linecap="round" stroke-linejoin="round"/><path d="M66,68 L76,63 L85,58 L95,54 L103.5,49.5" fill="none" stroke="#141414" stroke-width="8" stroke-linecap="round" stroke-linejoin="round"/><path d="M58,90 L60,78 L64,70" fill="none" stroke="#0d0d0d" stroke-width="10" stroke-linecap="round" stroke-linejoin="round"/><path d="M32.8,143 L32.8,162.8 L34.5,176.2 L37.8,192.8" fill="none" stroke="#1a1a1a" stroke-width="4.5" stroke-linecap="round" stroke-linejoin="round"/><path d="M62,80 L70,70 L80,62" fill="none" stroke="#0f0f0f" stroke-width="11" stroke-linecap="round" stroke-linejoin="round"/><path d="M62,68 L72,66 L68,74 L64,84 L62,92 L58,101 L56.2,116.2 L55,129.5 L52,138 L44,142 L32,141 L24,137 L30,131 L40,126 L44,116 L42,106 L46,98 L52,92 L56,82Z" fill="#080808"/><ellipse cx="54" cy="112" rx="15" ry="23" fill="#080808"/><path d="M30,136 L50,136" fill="none" stroke="#0f0f0f" stroke-width="9" stroke-linecap="round" stroke-linejoin="round"/><path d="M78,128 L90,132" fill="none" stroke="#1a1a1a" stroke-width="10" stroke-linecap="round" stroke-linejoin="round"/><path d="M69,76 L70,86.2 L71.2,99.5 L72.8,112.8 L69.5,126.2 L66.2,139.5 L61.2,152.8" fill="none" stroke="#8c8c8c" stroke-width="4" stroke-linecap="round" stroke-linejoin="round"/><path d="M40,150 L44,170" fill="none" stroke="#6b6b6b" stroke-width="6" stroke-linecap="round" stroke-linejoin="round"/><path d="M8,110 L12,130" fill="none" stroke="#666666" stroke-width="6" stroke-linecap="round" stroke-linejoin="round"/></g></g></g>
<text x="567" y="321.6" font-size="11.9" font-weight="bold" text-anchor="start" stroke="#000" stroke-width="0.3" >IL</text>
<rect x="567.1" y="333.3" width="6.5" height="26.7" fill="url(#gIL)"/>
<text x="575.7" y="337.5" font-size="11.9" font-weight="bold" text-anchor="start" stroke="#000" stroke-width="0.3" >88</text>
<text x="575.7" y="364.8" font-size="11.9" font-weight="bold" text-anchor="start" stroke="#000" stroke-width="0.3" >0</text>
<rect x="10.6" y="461.5" width="191.1" height="205.8" fill="none" stroke="#4e4e4e" stroke-width="1.05"/>
<g transform="translate(8.63,459.7) scale(1.019,1.015)"><g mask="url(#ms)"><g filter="url(#fDV)"><rect x="-150" y="-150" width="500" height="500" fill="#333333"/><path d="M49,176 L51,184 L48,192" fill="none" stroke="#808080" stroke-width="15" stroke-linecap="round" stroke-linejoin="round"/><path d="M49,176 L51,184 L48,192" fill="none" stroke="#999999" stroke-width="12.5" stroke-linecap="round" stroke-linejoin="round"/><path d="M49,176 L51,184 L48,192" fill="none" stroke="#adadad" stroke-width="10.5" stroke-linecap="round" stroke-linejoin="round"/><path d="M49,176 L51,184 L48,192" fill="none" stroke="#c2c2c2" stroke-width="8.5" stroke-linecap="round" stroke-linejoin="round"/><path d="M49,176 L51,184 L48,192" fill="none" stroke="#d4d4d4" stroke-width="6.5" stroke-linecap="round" stroke-linejoin="round"/><path d="M49,176 L51,184 L48,192" fill="none" stroke="#e6e6e6" stroke-width="4.8" stroke-linecap="round" stroke-linejoin="round"/><path d="M49,176 L51,184 L48,192" fill="none" stroke="#f5f5f5" stroke-width="3.2" stroke-linecap="round" stroke-linejoin="round"/><path d="M49,176 L51,184 L48,192" fill="none" stroke="#ffffff" stroke-width="1.6" stroke-linecap="round" stroke-linejoin="round"/><path d="M9,136 L10,150" fill="none" stroke="#8c8c8c" stroke-width="7" stroke-linecap="round" stroke-linejoin="round"/><path d="M9,136 L10,150" fill="none" stroke="#adadad" stroke-width="5" stroke-linecap="round" stroke-linejoin="round"/><path d="M9,136 L10,150" fill="none" stroke="#c7c7c7" stroke-width="3" stroke-linecap="round" stroke-linejoin="round"/><path d="M9,136 L10,150" fill="none" stroke="#d6d6d6" stroke-width="1.5" stroke-linecap="round" stroke-linejoin="round"/><path d="M31,207 L35,208" fill="none" stroke="#949494" stroke-width="9" stroke-linecap="round" stroke-linejoin="round"/><path d="M31,207 L35,208" fill="none" stroke="#b2b2b2" stroke-width="6.5" stroke-linecap="round" stroke-linejoin="round"/><path d="M31,207 L35,208" fill="none" stroke="#cccccc" stroke-width="4.5" stroke-linecap="round" stroke-linejoin="round"/><path d="M31,207 L35,208" fill="none" stroke="#e6e6e6" stroke-width="2.5" stroke-linecap="round" stroke-linejoin="round"/><path d="M14,56 L15,60" fill="none" stroke="#8f8f8f" stroke-width="7" stroke-linecap="round" stroke-linejoin="round"/><path d="M14,56 L15,60" fill="none" stroke="#b2b2b2" stroke-width="4.5" stroke-linecap="round" stroke-linejoin="round"/><path d="M14,56 L15,60" fill="none" stroke="#cccccc" stroke-width="2.5" stroke-linecap="round" stroke-linejoin="round"/><path d="M183.5,14 L184,16" fill="none" stroke="#949494" stroke-width="6" stroke-linecap="round" stroke-linejoin="round"/><path d="M183.5,14 L184,16" fill="none" stroke="#b8b8b8" stroke-width="3.5" stroke-linecap="round" stroke-linejoin="round"/><path d="M45,154 L47,158" fill="none" stroke="#858585" stroke-width="6" stroke-linecap="round" stroke-linejoin="round"/><path d="M39,160 L43,166" fill="none" stroke="#858585" stroke-width="6" stroke-linecap="round" stroke-linejoin="round"/><path d="M45,154 L47,158" fill="none" stroke="#9e9e9e" stroke-width="4" stroke-linecap="round" stroke-linejoin="round"/><path d="M39,160 L43,166" fill="none" stroke="#9e9e9e" stroke-width="4" stroke-linecap="round" stroke-linejoin="round"/><path d="M45,154 L47,158" fill="none" stroke="#b8b8b8" stroke-width="2" stroke-linecap="round" stroke-linejoin="round"/><path d="M39,160 L43,166" fill="none" stroke="#b8b8b8" stroke-width="2" stroke-linecap="round" stroke-linejoin="round"/><path d="M10,182 L11,186" fill="none" stroke="#808080" stroke-width="5" stroke-linecap="round" stroke-linejoin="round"/><path d="M14,198 L16,201" fill="none" stroke="#808080" stroke-width="5" stroke-linecap="round" stroke-linejoin="round"/><path d="M10,182 L11,186" fill="none" stroke="#9e9e9e" stroke-width="3" stroke-linecap="round" stroke-linejoin="round"/><path d="M14,198 L16,201" fill="none" stroke="#9e9e9e" stroke-width="3" stroke-linecap="round" stroke-linejoin="round"/><path d="M12,150 L18,146" fill="none" stroke="#8f8f8f" stroke-width="2.5" stroke-linecap="round" stroke-linejoin="round"/><path d="M30,170 L36,176 L40,172" fill="none" stroke="#949494" stroke-width="2" stroke-linecap="round" stroke-linejoin="round"/><path d="M16,182 L20,188" fill="none" stroke="#949494" stroke-width="3" stroke-linecap="round" stroke-linejoin="round"/><path d="M52,142 L58,150" fill="none" stroke="#8f8f8f" stroke-width="2.5" stroke-linecap="round" stroke-linejoin="round"/><path d="M36,62 L40,60 L42,56" fill="none" stroke="#949494" stroke-width="2.5" stroke-linecap="round" stroke-linejoin="round"/><path d="M130,30 L140,28" fill="none" stroke="#8f8f8f" stroke-width="2" stroke-linecap="round" stroke-linejoin="round"/><path d="M150,26 L160,20" fill="none" stroke="#8f8f8f" stroke-width="2" stroke-linecap="round" stroke-linejoin="round"/><path d="M164,34 L172,30" fill="none" stroke="#8c8c8c" stroke-width="2" stroke-linecap="round" stroke-linejoin="round"/><path d="M22,196 L26,200" fill="none" stroke="#949494" stroke-width="3" stroke-linecap="round" stroke-linejoin="round"/><path d="M60,68 L66,72" fill="none" stroke="#8c8c8c" stroke-width="2" stroke-linecap="round" stroke-linejoin="round"/><path d="M70,132 L76,128" fill="none" stroke="#8c8c8c" stroke-width="2" stroke-linecap="round" stroke-linejoin="round"/><path d="M24,164 L30,160" fill="none" stroke="#8f8f8f" stroke-width="2" stroke-linecap="round" stroke-linejoin="round"/><path d="M20,176 L28,180 L34,190" fill="none" stroke="#8f8f8f" stroke-width="1.8" stroke-linecap="round" stroke-linejoin="round"/><path d="M110,38 L120,36" fill="none" stroke="#8c8c8c" stroke-width="2" stroke-linecap="round" stroke-linejoin="round"/><path d="M140,40 L150,36 L158,30" fill="none" stroke="#8f8f8f" stroke-width="1.8" stroke-linecap="round" stroke-linejoin="round"/><path d="M44,70 L50,74" fill="none" stroke="#8c8c8c" stroke-width="2" stroke-linecap="round" stroke-linejoin="round"/></g></g></g>
<text x="133.2" y="549.1" font-size="11.9" font-weight="bold" text-anchor="start" stroke="#000" stroke-width="0.3" >DV</text>
<rect x="134.1" y="561.2" width="6.9" height="26.7" fill="url(#gDV)"/>
<text x="143.1" y="565.2" font-size="11.9" font-weight="bold" text-anchor="start" stroke="#000" stroke-width="0.3" >2511</text>
<text x="146.5" y="592.3" font-size="11.9" font-weight="bold" text-anchor="start" stroke="#000" stroke-width="0.3" >0</text>
<rect x="226" y="461.5" width="191.3" height="205.8" fill="none" stroke="#4e4e4e" stroke-width="1.05"/>
<g transform="translate(226,461.5)"><g mask="url(#mb)"><g filter="url(#fR)"><rect x="-150" y="-150" width="500" height="500" fill="#666666"/><path d="M0,52 L20,54 L26,66 L34,82 L40,98 L38,110 L38,124 L24,134 L20,140 L30,146 L30,160 L34,185 L36,207 L10,207 L0,150Z" fill="#474747"/><path d="M14,136 L32.7,135.8 L52.7,139.1 L76,139.1 L70,160 L60,207 L10,207Z" fill="#bdbdbd"/><path d="M21,54.1 L39.3,50.8 L49.3,30 L62.7,50.8 L74.3,47.5 L86,35.8 L87.7,52.5 L82.7,72.5 L66,79.1 L46,75.8 L29.3,69.1Z" fill="#dbdbdb"/><path d="M86,30 L102.7,28 L119.3,52.5 L112.7,80 L99.3,70 L86,72.5 L87.7,52.5Z" fill="#4c4c4c"/><path d="M102.7,28 L126,26 L136,15 L146,29.1 L132.7,45.8 L119.3,52.5Z" fill="#cccccc"/><path d="M36,82.5 L72.7,79.1 L86,85.8 L86,119.1 L66,125.8 L52.7,119.1 L39.3,112.5Z" fill="#949494"/><path d="M29.3,122.5 L52.7,119.1 L66,129.1 L52.7,139.1 L32.7,135.8Z" fill="#e0e0e0"/><path d="M72.7,122.5 L89.3,119.1 L95,132.5 L76,139.1Z" fill="#d6d6d6"/><path d="M146,29 L160,8 L190,8 L190,30 L170,50 L150,50 L132.7,45.8Z" fill="#5c5c5c"/></g></g></g>
<g transform="translate(226,461.5)"><g mask="url(#mb)"><g filter="url(#sR)"><path d="M0,52 L20,54 L26,66 L34,82 L40,98 L38,110 L38,124 L24,134 L20,140 L30,146 L30,160 L34,185 L36,207 L10,207 L0,150Z" fill="#000000"/><path d="M14,136 L32.7,135.8 L52.7,139.1 L76,139.1 L70,160 L60,207 L10,207Z" fill="#000000"/><path d="M86,30 L102.7,28 L119.3,52.5 L112.7,80 L99.3,70 L86,72.5 L87.7,52.5Z" fill="#000000"/><path d="M21,54.1 L39.3,50.8 L49.3,30 L62.7,50.8 L74.3,47.5 L86,35.8 L87.7,52.5 L82.7,72.5 L66,79.1 L46,75.8 L29.3,69.1Z" fill="#000000" fill-opacity="0.8"/><path d="M102.7,28 L126,26 L136,15 L146,29.1 L132.7,45.8 L119.3,52.5Z" fill="#000000" fill-opacity="0.7"/><path d="M132,8 L195,0 L195,60 L150,60 L132.7,45.8 L146,29.1Z" fill="#000000"/><path d="M36,82.5 L72.7,79.1 L86,85.8 L86,119.1 L66,125.8 L52.7,119.1 L39.3,112.5Z" fill="#000000" fill-opacity="0.45"/><path d="M60,78 L100,70 L112,115 L110,140 L80,150 L70,130 L86,119 L86,86Z" fill="#000000" fill-opacity="0.6"/></g></g></g>
<text x="355.3" y="549.1" font-size="11.9" font-weight="bold" text-anchor="start" stroke="#000" stroke-width="0.3" >R</text>
<rect x="354.8" y="560.8" width="6.6" height="27.1" fill="url(#gR)"/>
<text x="363.6" y="565.6" font-size="11.9" font-weight="bold" text-anchor="start" stroke="#000" stroke-width="0.3" >1</text>
<text x="363.6" y="592.3" font-size="11.9" font-weight="bold" text-anchor="start" stroke="#000" stroke-width="0.3" >0,3</text>
<rect x="441.5" y="461.5" width="190.9" height="205.8" fill="none" stroke="#4e4e4e" stroke-width="1.05"/>
<g transform="translate(441.5,461.5)"><g mask="url(#mb)"><g filter="url(#fRR)"><rect x="-150" y="-150" width="500" height="500" fill="#6b6b6b"/><path d="M0,52 L20,54 L26,66 L34,82 L40,98 L38,110 L38,124 L24,134 L20,140 L30,146 L30,160 L34,185 L36,207 L10,207 L0,150Z" fill="#a3a3a3"/><path d="M40,98 L60,78 L80,80 L95,85 L112,115 L110,140 L80,150 L60,165 L34,160 L30,146 L38,124 L38,110Z" fill="#6b6b6b"/><path d="M76,84 L86,82 L96,100 L95,120 L97,140 L80,147 L72,142 L76,126 L78,110 L76,95Z" fill="#333333"/><path d="M20.3,54.2 L32.8,50.9 L39.5,47.5 L41.2,40.9 L49.5,31 L57.8,39.2 L62,50.9 L54.5,50.9 L49.5,52.5 L46.2,59.2 L45.3,69.2 L39.5,65.9 L32.8,69.2 L27.8,65.9 L22.8,62.5Z" fill="#333333"/><path d="M22,58 L28,68 L33,78 L37,88 L40,96" fill="none" stroke="#616161" stroke-width="7" stroke-linecap="round" stroke-linejoin="round"/><path d="M5,58 L7,75 L8,100 L13,120 L19,135 L23,150 L25,162" fill="none" stroke="#808080" stroke-width="13" stroke-linecap="round" stroke-linejoin="round"/><path d="M14,60 L20,70 L26,82" fill="none" stroke="#808080" stroke-width="13" stroke-linecap="round" stroke-linejoin="round"/><path d="M50,53 L48.5,66.2 L47,76" fill="none" stroke="#808080" stroke-width="13" stroke-linecap="round" stroke-linejoin="round"/><path d="M50,53 L59.5,53 L66.2,57.8 L72.8,52.8 L82.8,42.8 L92.8,39.5 L105.5,37.8 L108.5,34.5 L121.8,31.2 L135.2,27.8 L143.5,17.8 L155.2,9.5 L163.5,7" fill="none" stroke="#808080" stroke-width="13" stroke-linecap="round" stroke-linejoin="round"/><path d="M91.8,62 L100,62 L113.5,54.5 L126.8,47.8 L143.5,42.8 L155.2,37.8 L166.8,27.8 L176.8,21.2 L185.2,13.5" fill="none" stroke="#808080" stroke-width="13" stroke-linecap="round" stroke-linejoin="round"/><path d="M69,76 L70,86.2 L71.2,99.5 L72.8,112.8 L69.5,126.2 L66.2,139.5 L61.2,152.8" fill="none" stroke="#808080" stroke-width="13" stroke-linecap="round" stroke-linejoin="round"/><path d="M78,70 L88,67 L93,73" fill="none" stroke="#808080" stroke-width="13" stroke-linecap="round" stroke-linejoin="round"/><path d="M42.8,149.5 L47.8,166.2 L49.5,179.5 L51.2,192.8" fill="none" stroke="#808080" stroke-width="13" stroke-linecap="round" stroke-linejoin="round"/><path d="M19.5,152.8 L17.8,179.5 L22.8,196.2" fill="none" stroke="#808080" stroke-width="13" stroke-linecap="round" stroke-linejoin="round"/><path d="M25,200 L40,203" fill="none" stroke="#808080" stroke-width="13" stroke-linecap="round" stroke-linejoin="round"/><path d="M5,58 L7,75 L8,100 L13,120 L19,135 L23,150 L25,162" fill="none" stroke="#999999" stroke-width="9" stroke-linecap="round" stroke-linejoin="round"/><path d="M14,60 L20,70 L26,82" fill="none" stroke="#999999" stroke-width="9" stroke-linecap="round" stroke-linejoin="round"/><path d="M50,53 L48.5,66.2 L47,76" fill="none" stroke="#999999" stroke-width="9" stroke-linecap="round" stroke-linejoin="round"/><path d="M50,53 L59.5,53 L66.2,57.8 L72.8,52.8 L82.8,42.8 L92.8,39.5 L105.5,37.8 L108.5,34.5 L121.8,31.2 L135.2,27.8 L143.5,17.8 L155.2,9.5 L163.5,7" fill="none" stroke="#999999" stroke-width="9" stroke-linecap="round" stroke-linejoin="round"/><path d="M91.8,62 L100,62 L113.5,54.5 L126.8,47.8 L143.5,42.8 L155.2,37.8 L166.8,27.8 L176.8,21.2 L185.2,13.5" fill="none" stroke="#999999" stroke-width="9" stroke-linecap="round" stroke-linejoin="round"/><path d="M69,76 L70,86.2 L71.2,99.5 L72.8,112.8 L69.5,126.2 L66.2,139.5 L61.2,152.8" fill="none" stroke="#999999" stroke-width="9" stroke-linecap="round" stroke-linejoin="round"/><path d="M78,70 L88,67 L93,73" fill="none" stroke="#999999" stroke-width="9" stroke-linecap="round" stroke-linejoin="round"/><path d="M42.8,149.5 L47.8,166.2 L49.5,179.5 L51.2,192.8" fill="none" stroke="#999999" stroke-width="9" stroke-linecap="round" stroke-linejoin="round"/><path d="M19.5,152.8 L17.8,179.5 L22.8,196.2" fill="none" stroke="#999999" stroke-width="9" stroke-linecap="round" stroke-linejoin="round"/><path d="M25,200 L40,203" fill="none" stroke="#999999" stroke-width="9" stroke-linecap="round" stroke-linejoin="round"/><path d="M5,58 L7,75 L8,100 L13,120 L19,135 L23,150 L25,162" fill="none" stroke="#b2b2b2" stroke-width="5.5" stroke-linecap="round" stroke-linejoin="round"/><path d="M14,60 L20,70 L26,82" fill="none" stroke="#b2b2b2" stroke-width="5.5" stroke-linecap="round" stroke-linejoin="round"/><path d="M50,53 L48.5,66.2 L47,76" fill="none" stroke="#b2b2b2" stroke-width="5.5" stroke-linecap="round" stroke-linejoin="round"/><path d="M50,53 L59.5,53 L66.2,57.8 L72.8,52.8 L82.8,42.8 L92.8,39.5 L105.5,37.8 L108.5,34.5 L121.8,31.2 L135.2,27.8 L143.5,17.8 L155.2,9.5 L163.5,7" fill="none" stroke="#b2b2b2" stroke-width="5.5" stroke-linecap="round" stroke-linejoin="round"/><path d="M91.8,62 L100,62 L113.5,54.5 L126.8,47.8 L143.5,42.8 L155.2,37.8 L166.8,27.8 L176.8,21.2 L185.2,13.5" fill="none" stroke="#b2b2b2" stroke-width="5.5" stroke-linecap="round" stroke-linejoin="round"/><path d="M69,76 L70,86.2 L71.2,99.5 L72.8,112.8 L69.5,126.2 L66.2,139.5 L61.2,152.8" fill="none" stroke="#b2b2b2" stroke-width="5.5" stroke-linecap="round" stroke-linejoin="round"/><path d="M78,70 L88,67 L93,73" fill="none" stroke="#b2b2b2" stroke-width="5.5" stroke-linecap="round" stroke-linejoin="round"/><path d="M42.8,149.5 L47.8,166.2 L49.5,179.5 L51.2,192.8" fill="none" stroke="#b2b2b2" stroke-width="5.5" stroke-linecap="round" stroke-linejoin="round"/><path d="M19.5,152.8 L17.8,179.5 L22.8,196.2" fill="none" stroke="#b2b2b2" stroke-width="5.5" stroke-linecap="round" stroke-linejoin="round"/><path d="M25,200 L40,203" fill="none" stroke="#b2b2b2" stroke-width="5.5" stroke-linecap="round" stroke-linejoin="round"/><path d="M5,58 L7,75 L8,100 L13,120 L19,135 L23,150 L25,162" fill="none" stroke="#d1d1d1" stroke-width="2.5" stroke-linecap="round" stroke-linejoin="round"/><path d="M14,60 L20,70 L26,82" fill="none" stroke="#d1d1d1" stroke-width="2.5" stroke-linecap="round" stroke-linejoin="round"/><path d="M50,53 L48.5,66.2 L47,76" fill="none" stroke="#d1d1d1" stroke-width="2.5" stroke-linecap="round" stroke-linejoin="round"/><path d="M50,53 L59.5,53 L66.2,57.8 L72.8,52.8 L82.8,42.8 L92.8,39.5 L105.5,37.8 L108.5,34.5 L121.8,31.2 L135.2,27.8 L143.5,17.8 L155.2,9.5 L163.5,7" fill="none" stroke="#d1d1d1" stroke-width="2.5" stroke-linecap="round" stroke-linejoin="round"/><path d="M91.8,62 L100,62 L113.5,54.5 L126.8,47.8 L143.5,42.8 L155.2,37.8 L166.8,27.8 L176.8,21.2 L185.2,13.5" fill="none" stroke="#d1d1d1" stroke-width="2.5" stroke-linecap="round" stroke-linejoin="round"/><path d="M69,76 L70,86.2 L71.2,99.5 L72.8,112.8 L69.5,126.2 L66.2,139.5 L61.2,152.8" fill="none" stroke="#d1d1d1" stroke-width="2.5" stroke-linecap="round" stroke-linejoin="round"/><path d="M78,70 L88,67 L93,73" fill="none" stroke="#d1d1d1" stroke-width="2.5" stroke-linecap="round" stroke-linejoin="round"/><path d="M42.8,149.5 L47.8,166.2 L49.5,179.5 L51.2,192.8" fill="none" stroke="#d1d1d1" stroke-width="2.5" stroke-linecap="round" stroke-linejoin="round"/><path d="M19.5,152.8 L17.8,179.5 L22.8,196.2" fill="none" stroke="#d1d1d1" stroke-width="2.5" stroke-linecap="round" stroke-linejoin="round"/><path d="M25,200 L40,203" fill="none" stroke="#d1d1d1" stroke-width="2.5" stroke-linecap="round" stroke-linejoin="round"/><path d="M66,68 L76,63 L85,58 L95,54 L103.5,49.5 L115.2,42.8 L131.8,39.5 L145.2,31.2 L153.5,24.5 L163.5,17.8 L170.2,12.8 L178,9.5" fill="none" stroke="#5c5c5c" stroke-width="9" stroke-linecap="round" stroke-linejoin="round"/><path d="M58,90 L60,78 L64,70" fill="none" stroke="#5c5c5c" stroke-width="9" stroke-linecap="round" stroke-linejoin="round"/><path d="M66,68 L76,63 L85,58 L95,54 L103.5,49.5 L115.2,42.8 L131.8,39.5 L145.2,31.2 L153.5,24.5 L163.5,17.8 L170.2,12.8 L178,9.5" fill="none" stroke="#383838" stroke-width="5" stroke-linecap="round" stroke-linejoin="round"/><path d="M58,90 L60,78 L64,70" fill="none" stroke="#383838" stroke-width="5" stroke-linecap="round" stroke-linejoin="round"/><path d="M66,68 L76,63 L85,58 L95,54 L103.5,49.5 L115.2,42.8 L131.8,39.5 L145.2,31.2 L153.5,24.5 L163.5,17.8 L170.2,12.8 L178,9.5" fill="none" stroke="#1a1a1a" stroke-width="2.2" stroke-linecap="round" stroke-linejoin="round"/><path d="M58,90 L60,78 L64,70" fill="none" stroke="#1a1a1a" stroke-width="2.2" stroke-linecap="round" stroke-linejoin="round"/><path d="M62,68 L72,66 L68,74 L64,84 L62,92 L58,101 L56.2,116.2 L55,129.5 L52,138 L44,142 L32,141 L24,137 L30,131 L40,126 L44,116 L42,106 L46,98 L52,92 L56,82Z" fill="#0a0a0a"/><path d="M32.8,143 L32.8,162.8 L34.5,176.2 L37.8,192.8" fill="none" stroke="#666666" stroke-width="6" stroke-linecap="round" stroke-linejoin="round"/><path d="M32.8,143 L32.8,162.8 L34.5,176.2 L37.8,192.8" fill="none" stroke="#424242" stroke-width="3" stroke-linecap="round" stroke-linejoin="round"/><path d="M62,68 L72,66 L68,74 L64,84 L62,92 L58,101 L56.2,116.2 L55,129.5 L52,138 L44,142 L32,141 L24,137 L30,131 L40,126 L44,116 L42,106 L46,98 L52,92 L56,82Z" fill="#0a0a0a"/><path d="M12,64 L14,76 L15,92 L17,104" fill="none" stroke="#e0e0e0" stroke-width="4.5" stroke-linecap="round" stroke-linejoin="round"/><path d="M23,146 L25,172" fill="none" stroke="#e0e0e0" stroke-width="4" stroke-linecap="round" stroke-linejoin="round"/><path d="M28,58 L36,70" fill="none" stroke="#e6e6e6" stroke-width="3" stroke-linecap="round" stroke-linejoin="round"/><path d="M50,53 L59.5,53 L63,57" fill="none" stroke="#ebebeb" stroke-width="2.5" stroke-linecap="round" stroke-linejoin="round"/><path d="M140,20 L150,13 L158,10" fill="none" stroke="#e0e0e0" stroke-width="2.5" stroke-linecap="round" stroke-linejoin="round"/><path d="M146,44 L158,38" fill="none" stroke="#e6e6e6" stroke-width="2.5" stroke-linecap="round" stroke-linejoin="round"/><path d="M46,182 L48,194" fill="none" stroke="#e0e0e0" stroke-width="4" stroke-linecap="round" stroke-linejoin="round"/><path d="M49,56 L48,70" fill="none" stroke="#e6e6e6" stroke-width="2.5" stroke-linecap="round" stroke-linejoin="round"/><path d="M70,100 L72,116" fill="none" stroke="#e0e0e0" stroke-width="2.5" stroke-linecap="round" stroke-linejoin="round"/><path d="M104,38 L122,32" fill="none" stroke="#e0e0e0" stroke-width="2.5" stroke-linecap="round" stroke-linejoin="round"/></g></g></g>
<text x="566.6" y="549.1" font-size="11.9" font-weight="bold" text-anchor="start" stroke="#000" stroke-width="0.3" >RR</text>
<rect x="567.3" y="560.8" width="6.7" height="27.3" fill="url(#gRR)"/>
<text x="576.2" y="565.5" font-size="11.9" font-weight="bold" text-anchor="start" stroke="#000" stroke-width="0.3" >525</text>
<text x="579.1" y="592.5" font-size="11.9" font-weight="bold" text-anchor="start" stroke="#000" stroke-width="0.3" >2</text>
<rect x="10.6" y="689.2" width="191.1" height="206.1" fill="none" stroke="#4e4e4e" stroke-width="1.05"/>
<g transform="translate(8.63,687.4) scale(1.019,1.015)"><g mask="url(#ms)"><g transform="rotate(-40 96 103)"><g filter="url(#fA)"><g transform="rotate(40 96 103)"><rect x="-150" y="-150" width="500" height="500" fill="#808080"/><path d="M0,30 L42,30 L50,52 L52,64 L44,80 L40,95 L0,95Z" fill="#333333"/><path d="M42,30 L95,25 L95,58 L80,62 L66,66 L52,64 L50,52Z" fill="#616161"/><path d="M52,64 L66,66 L80,62 L95,58 L105,80 L70,98 L44,95 L44,80Z" fill="#cccccc"/><path d="M90,45 L130,10 L150,-5 L172,10 L150,22 L136,30 L120,38 L100,40Z" fill="#545454"/><path d="M100,40 L120,38 L136,30 L150,22 L172,10 L180,0 L200,10 L195,45 L150,65 L110,68Z" fill="#d1d1d1"/><path d="M0,115 L34,115 L30,140 L32,165 L22,190 L0,195Z" fill="#4c4c4c"/><path d="M30,140 L50,126 L66,122 L72,142 L56,162 L40,168 L32,165Z" fill="#c7c7c7"/><path d="M66,112 L95,112 L95,148 L72,142Z" fill="#525252"/><path d="M0,195 L22,190 L32,165 L40,168 L56,162 L60,215 L0,215Z" fill="#9e9e9e"/></g></g></g></g></g>
<text x="137.4" y="777" font-size="11.9" font-weight="bold" text-anchor="start" stroke="#000" stroke-width="0.3" >A</text>
<rect x="134.1" y="788.7" width="6.9" height="26" fill="url(#gA)"/>
<text x="146.5" y="793.3" font-size="11.9" font-weight="bold" text-anchor="start" stroke="#000" stroke-width="0.3" >360</text>
<text x="143.4" y="820.4" font-size="11.9" font-weight="bold" text-anchor="start" stroke="#000" stroke-width="0.3" >-1</text>
<rect x="226" y="689.2" width="191.3" height="206.1" fill="none" stroke="#4e4e4e" stroke-width="1.05"/>
<g transform="translate(226,689.2)"><g mask="url(#mb)"><g filter="url(#fTPI)"><rect x="-150" y="-150" width="500" height="500" fill="#858585"/><path d="M0,52 L20,54 L26,66 L34,82 L40,98 L38,110 L38,124 L24,134 L20,140 L30,146 L30,160 L34,185 L36,207 L10,207 L0,150Z" fill="#9e9e9e"/><path d="M14,136 L32.7,135.8 L52.7,139.1 L76,139.1 L70,160 L60,207 L10,207Z" fill="#6b6b6b"/><path d="M21,54.1 L39.3,50.8 L49.3,30 L62.7,50.8 L74.3,47.5 L86,35.8 L87.7,52.5 L82.7,72.5 L66,79.1 L46,75.8 L29.3,69.1Z" fill="#5c5c5c"/><path d="M86,30 L102.7,28 L119.3,52.5 L112.7,80 L99.3,70 L86,72.5 L87.7,52.5Z" fill="#9e9e9e"/><path d="M102.7,28 L126,26 L136,15 L146,29.1 L132.7,45.8 L119.3,52.5Z" fill="#666666"/><path d="M36,82.5 L72.7,79.1 L86,85.8 L86,119.1 L66,125.8 L52.7,119.1 L39.3,112.5Z" fill="#858585"/><path d="M29.3,122.5 L52.7,119.1 L66,129.1 L52.7,139.1 L32.7,135.8Z" fill="#575757"/><path d="M72.7,122.5 L89.3,119.1 L95,132.5 L76,139.1Z" fill="#616161"/><path d="M146,29 L160,8 L190,8 L190,30 L170,50 L150,50 L132.7,45.8Z" fill="#757575"/></g></g></g>
<text x="350.5" y="777" font-size="11.9" font-weight="bold" text-anchor="start" stroke="#000" stroke-width="0.3" >TPI</text>
<rect x="353.8" y="788.9" width="6.6" height="27.1" fill="url(#gDF)"/>
<text x="362.8" y="793.3" font-size="11.9" font-weight="bold" text-anchor="start" stroke="#000" stroke-width="0.3" >56</text>
<text x="366.2" y="820.8" font-size="11.9" font-weight="bold" text-anchor="start" stroke="#000" stroke-width="0.3" >-50</text>
<rect x="441.5" y="689.2" width="190.9" height="206.1" fill="none" stroke="#4e4e4e" stroke-width="1.05"/>
<g transform="translate(441.5,689.2)"><g mask="url(#mb)"><g filter="url(#fWI)"><rect x="-150" y="-150" width="500" height="500" fill="#707070"/><path d="M0,52 L20,54 L26,66 L34,82 L40,98 L38,110 L38,124 L24,134 L20,140 L30,146 L30,160 L34,185 L36,207 L10,207 L0,150Z" fill="#4c4c4c"/><path d="M20.3,54.2 L32.8,50.9 L39.5,47.5 L41.2,40.9 L49.5,31 L57.8,39.2 L62,50.9 L54.5,50.9 L49.5,52.5 L46.2,59.2 L45.3,69.2 L39.5,65.9 L32.8,69.2 L27.8,65.9 L22.8,62.5Z" fill="#575757"/><path d="M40,98 L60,78 L80,80 L95,85 L112,115 L110,140 L80,150 L60,165 L34,160 L30,146 L38,124 L38,110Z" fill="#808080"/><path d="M76,84 L86,82 L96,100 L95,120 L97,140 L80,147 L72,142 L76,126 L78,110 L76,95Z" fill="#757575"/><path d="M14,136 L32.7,135.8 L52.7,139.1 L76,139.1 L70,160 L60,207 L10,207Z" fill="#808080"/><path d="M5,58 L7,75 L8,100 L13,120 L19,135 L23,150 L25,162" fill="none" stroke="#3d3d3d" stroke-width="12" stroke-linecap="round" stroke-linejoin="round"/><path d="M50,53 L59.5,53 L66.2,57.8 L72.8,52.8 L82.8,42.8 L92.8,39.5 L105.5,37.8 L108.5,34.5 L121.8,31.2 L135.2,27.8 L143.5,17.8 L155.2,9.5 L163.5,7" fill="none" stroke="#5c5c5c" stroke-width="9" stroke-linecap="round" stroke-linejoin="round"/><path d="M91.8,62 L100,62 L113.5,54.5 L126.8,47.8 L143.5,42.8 L155.2,37.8 L166.8,27.8 L176.8,21.2 L185.2,13.5" fill="none" stroke="#616161" stroke-width="9" stroke-linecap="round" stroke-linejoin="round"/><path d="M19.5,152.8 L17.8,179.5 L22.8,196.2" fill="none" stroke="#616161" stroke-width="8" stroke-linecap="round" stroke-linejoin="round"/><path d="M66,68 L76,63 L85,58 L95,54 L103.5,49.5 L115.2,42.8 L131.8,39.5 L145.2,31.2 L153.5,24.5 L163.5,17.8 L170.2,12.8 L178,9.5" fill="none" stroke="#8a8a8a" stroke-width="9" stroke-linecap="round" stroke-linejoin="round"/><path d="M58,90 L60,78 L64,70" fill="none" stroke="#949494" stroke-width="9" stroke-linecap="round" stroke-linejoin="round"/><path d="M32.8,143 L32.8,162.8 L34.5,176.2 L37.8,192.8" fill="none" stroke="#8f8f8f" stroke-width="9" stroke-linecap="round" stroke-linejoin="round"/><path d="M22,58 L28,68 L33,78 L37,88 L40,96" fill="none" stroke="#757575" stroke-width="7" stroke-linecap="round" stroke-linejoin="round"/><path d="M62,68 L72,66 L68,74 L64,84 L62,92 L58,101 L56.2,116.2 L55,129.5 L52,138 L44,142 L32,141 L24,137 L30,131 L40,126 L44,116 L42,106 L46,98 L52,92 L56,82Z" fill="#9e9e9e"/><path d="M66,68 L76,63 L85,58 L95,54 L103.5,49.5 L115.2,42.8 L131.8,39.5 L145.2,31.2 L153.5,24.5 L163.5,17.8 L170.2,12.8 L178,9.5" fill="none" stroke="#a8a8a8" stroke-width="3" stroke-linecap="round" stroke-linejoin="round"/><path d="M150,26 L160,19 L172,12" fill="none" stroke="#ebebeb" stroke-width="2.2" stroke-linecap="round" stroke-linejoin="round"/><path d="M94,54 L104,49" fill="none" stroke="#f5f5f5" stroke-width="2.2" stroke-linecap="round" stroke-linejoin="round"/><path d="M58,84 L62,74 L68,68" fill="none" stroke="#d6d6d6" stroke-width="1.8" stroke-linecap="round" stroke-linejoin="round"/><path d="M50,96 L48,110 L44,124" fill="none" stroke="#c2c2c2" stroke-width="2" stroke-linecap="round" stroke-linejoin="round"/><path d="M30,150 L34,170 L36,190" fill="none" stroke="#9e9e9e" stroke-width="4" stroke-linecap="round" stroke-linejoin="round"/></g></g></g>
<text x="567.8" y="777" font-size="11.9" font-weight="bold" text-anchor="start" stroke="#000" stroke-width="0.3" >WI</text>
<rect x="570.1" y="788.9" width="6.9" height="26.7" fill="url(#gCP)"/>
<text x="582.2" y="793.3" font-size="11.9" font-weight="bold" text-anchor="start" stroke="#000" stroke-width="0.3" >25</text>
<text x="579.4" y="820.4" font-size="11.9" font-weight="bold" text-anchor="start" stroke="#000" stroke-width="0.3" >-3</text>
</svg>
</body></html>
